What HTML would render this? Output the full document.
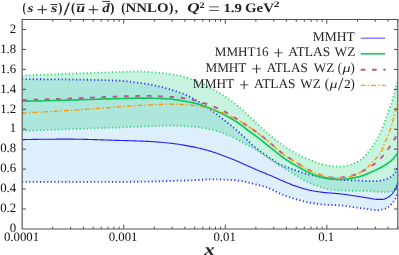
<!DOCTYPE html>
<html lang="en">
<head>
<meta charset="utf-8">
<title>(s + sbar)/(ubar + dbar) NNLO, Q^2 = 1.9 GeV^2</title>
<style>
html,body{margin:0;padding:0;background:#fff;}
body{width:399px;height:255px;overflow:hidden;font-family:"Liberation Serif",serif;}
svg{display:block;}
svg text{text-rendering:geometricPrecision;}
svg{will-change:transform;}
</style>
</head>
<body>
<svg width="399" height="255" viewBox="0 0 399 255" font-family="'Liberation Serif', serif" font-size="12.8" fill="#111">
<rect width="399" height="255" fill="#fff"/>
<clipPath id="c"><rect x="22.18" y="19.5" width="375.62" height="209.45"/></clipPath>
<g clip-path="url(#c)">
<path d="M22.00,79.20 L23.32,79.20 L24.65,79.20 L25.98,79.20 L27.30,79.21 L28.62,79.21 L29.95,79.21 L31.27,79.22 L32.60,79.22 L33.92,79.23 L35.25,79.23 L36.58,79.24 L37.90,79.24 L39.22,79.25 L40.55,79.26 L41.88,79.27 L43.20,79.27 L44.52,79.28 L45.85,79.29 L47.17,79.30 L48.50,79.31 L49.83,79.32 L51.15,79.33 L52.47,79.34 L53.80,79.35 L55.12,79.36 L56.45,79.37 L57.77,79.39 L59.10,79.40 L60.42,79.41 L61.75,79.42 L63.07,79.43 L64.40,79.45 L65.72,79.46 L67.05,79.47 L68.38,79.48 L69.70,79.50 L71.03,79.51 L72.35,79.53 L73.67,79.54 L75.00,79.56 L76.32,79.57 L77.65,79.59 L78.97,79.61 L80.30,79.62 L81.62,79.64 L82.95,79.66 L84.28,79.68 L85.60,79.71 L86.92,79.73 L88.25,79.75 L89.58,79.78 L90.90,79.80 L92.22,79.83 L93.55,79.86 L94.88,79.89 L96.20,79.92 L97.52,79.95 L98.85,79.98 L100.17,80.02 L101.50,80.05 L102.83,80.09 L104.15,80.13 L105.47,80.17 L106.80,80.21 L108.12,80.25 L109.45,80.30 L110.77,80.34 L112.10,80.39 L113.42,80.44 L114.75,80.49 L116.08,80.54 L117.40,80.60 L118.72,80.67 L120.05,80.74 L121.38,80.82 L122.70,80.92 L124.02,81.02 L125.35,81.14 L126.67,81.27 L128.00,81.41 L129.32,81.57 L130.65,81.73 L131.97,81.90 L133.30,82.08 L134.62,82.27 L135.95,82.46 L137.27,82.65 L138.60,82.84 L139.93,83.03 L141.25,83.22 L142.57,83.41 L143.90,83.60 L145.22,83.79 L146.55,83.99 L147.88,84.20 L149.20,84.41 L150.53,84.64 L151.85,84.89 L153.17,85.15 L154.50,85.43 L155.82,85.73 L157.15,86.04 L158.47,86.37 L159.80,86.70 L161.12,87.03 L162.45,87.37 L163.78,87.71 L165.10,88.06 L166.42,88.41 L167.75,88.77 L169.07,89.13 L170.40,89.51 L171.72,89.89 L173.05,90.29 L174.38,90.71 L175.70,91.13 L177.03,91.57 L178.35,92.03 L179.67,92.50 L181.00,92.97 L182.32,93.46 L183.65,93.97 L184.97,94.50 L186.30,95.05 L187.62,95.65 L188.95,96.28 L190.28,96.95 L191.60,97.66 L192.92,98.40 L194.25,99.16 L195.57,99.93 L196.90,100.70 L198.22,101.47 L199.55,102.26 L200.88,103.06 L202.20,103.89 L203.53,104.75 L204.85,105.65 L206.17,106.58 L207.50,107.53 L208.82,108.50 L210.15,109.47 L211.47,110.44 L212.80,111.40 L214.12,112.37 L215.45,113.34 L216.78,114.33 L218.10,115.33 L219.42,116.35 L220.75,117.38 L222.07,118.42 L223.40,119.47 L224.72,120.51 L226.05,121.56 L227.38,122.61 L228.70,123.67 L230.03,124.73 L231.35,125.80 L232.67,126.88 L234.00,127.97 L235.32,129.09 L236.65,130.23 L237.97,131.40 L239.30,132.60 L240.62,133.84 L241.95,135.09 L243.28,136.37 L244.60,137.65 L245.92,138.94 L247.25,140.22 L248.57,141.49 L249.90,142.73 L251.22,143.95 L252.55,145.14 L253.88,146.29 L255.20,147.40 L256.52,148.47 L257.85,149.50 L259.17,150.50 L260.50,151.47 L261.82,152.43 L263.15,153.37 L264.48,154.29 L265.80,155.22 L267.12,156.14 L268.45,157.06 L269.77,157.98 L271.10,158.90 L272.42,159.81 L273.75,160.71 L275.07,161.59 L276.40,162.43 L277.73,163.23 L279.05,163.97 L280.38,164.65 L281.70,165.28 L283.02,165.85 L284.35,166.37 L285.68,166.87 L287.00,167.33 L288.32,167.78 L289.65,168.22 L290.97,168.67 L292.30,169.11 L293.62,169.57 L294.95,170.04 L296.27,170.51 L297.60,170.99 L298.93,171.48 L300.25,171.95 L301.57,172.42 L302.90,172.86 L304.22,173.27 L305.55,173.65 L306.88,173.99 L308.20,174.31 L309.52,174.60 L310.85,174.87 L312.18,175.14 L313.50,175.40 L314.82,175.67 L316.15,175.94 L317.47,176.22 L318.80,176.49 L320.12,176.76 L321.45,177.02 L322.77,177.27 L324.10,177.51 L325.43,177.74 L326.75,177.96 L328.07,178.18 L329.40,178.39 L330.72,178.59 L332.05,178.78 L333.38,178.96 L334.70,179.14 L336.02,179.29 L337.35,179.43 L338.68,179.54 L340.00,179.63 L340.18,179.70 L340.36,179.75 L340.54,179.79 L340.72,179.81 L340.90,179.83 L341.08,179.84 L341.26,179.85 L341.44,179.87 L341.63,179.88 L341.81,179.89 L341.99,179.90 L342.17,179.91 L342.35,179.92 L342.53,179.93 L342.71,179.94 L342.89,179.95 L343.07,179.96 L343.25,179.97 L343.43,179.97 L343.61,179.98 L343.79,179.99 L343.97,180.00 L344.15,180.01 L344.33,180.02 L344.51,180.02 L344.69,180.03 L344.88,180.04 L345.06,180.05 L345.24,180.05 L345.42,180.06 L345.60,180.07 L345.78,180.08 L345.96,180.08 L346.14,180.09 L346.32,180.10 L346.50,180.10 L346.68,180.11 L346.86,180.12 L347.04,180.12 L347.22,180.13 L347.40,180.13 L347.58,180.14 L347.76,180.15 L347.94,180.15 L348.13,180.16 L348.31,180.16 L348.49,180.17 L348.67,180.17 L348.85,180.18 L349.03,180.19 L349.21,180.19 L349.39,180.20 L349.57,180.20 L349.75,180.21 L349.93,180.21 L350.11,180.22 L350.29,180.22 L350.47,180.23 L350.65,180.23 L350.83,180.24 L351.01,180.24 L351.19,180.25 L351.38,180.25 L351.56,180.26 L351.74,180.26 L351.92,180.27 L352.10,180.27 L352.28,180.28 L352.46,180.28 L352.64,180.29 L352.82,180.30 L353.00,180.30 L353.18,180.31 L353.36,180.31 L353.54,180.32 L353.72,180.32 L353.90,180.33 L354.08,180.33 L354.26,180.34 L354.45,180.34 L354.63,180.35 L354.81,180.36 L354.99,180.36 L355.17,180.37 L355.35,180.37 L355.53,180.38 L355.71,180.39 L355.89,180.39 L356.07,180.40 L356.25,180.41 L356.43,180.41 L356.61,180.42 L356.79,180.43 L356.97,180.43 L357.15,180.44 L357.33,180.45 L357.51,180.45 L357.70,180.46 L357.88,180.47 L358.06,180.48 L358.24,180.48 L358.42,180.49 L358.60,180.50 L358.78,180.51 L358.96,180.52 L359.14,180.53 L359.32,180.54 L359.50,180.55 L359.68,180.56 L359.86,180.57 L360.04,180.58 L360.22,180.59 L360.40,180.60 L360.58,180.62 L360.76,180.63 L360.95,180.64 L361.13,180.66 L361.31,180.67 L361.49,180.68 L361.67,180.70 L361.85,180.71 L362.03,180.72 L362.21,180.74 L362.39,180.75 L362.57,180.76 L362.75,180.78 L362.93,180.79 L363.11,180.81 L363.29,180.82 L363.47,180.83 L363.65,180.85 L363.83,180.86 L364.02,180.87 L364.20,180.89 L364.38,180.90 L364.56,180.91 L364.74,180.93 L364.92,180.94 L365.10,180.95 L365.28,180.96 L365.46,180.97 L365.64,180.98 L365.82,181.00 L366.00,181.01 L366.18,181.02 L366.36,181.02 L366.54,181.03 L366.72,181.04 L366.90,181.05 L367.08,181.06 L367.27,181.06 L367.45,181.07 L367.63,181.08 L367.81,181.08 L367.99,181.09 L368.17,181.09 L368.35,181.09 L368.53,181.10 L368.71,181.10 L368.89,181.10 L369.07,181.10 L369.25,181.10 L369.43,181.10 L369.61,181.10 L369.79,181.10 L369.97,181.10 L370.15,181.10 L370.33,181.10 L370.52,181.10 L370.70,181.10 L370.88,181.10 L371.06,181.10 L371.24,181.10 L371.42,181.10 L371.60,181.10 L371.78,181.10 L371.96,181.10 L372.14,181.10 L372.32,181.10 L372.50,181.10 L372.68,181.10 L372.86,181.10 L373.04,181.10 L373.22,181.10 L373.40,181.10 L373.58,181.10 L373.77,181.10 L373.95,181.10 L374.13,181.10 L374.31,181.10 L374.49,181.10 L374.67,181.10 L374.85,181.10 L375.03,181.10 L375.21,181.10 L375.39,181.10 L375.57,181.10 L375.75,181.10 L375.93,181.10 L376.11,181.10 L376.29,181.10 L376.47,181.10 L376.65,181.10 L376.84,181.09 L377.02,181.09 L377.20,181.08 L377.38,181.07 L377.56,181.06 L377.74,181.05 L377.92,181.04 L378.10,181.02 L378.28,181.01 L378.46,180.99 L378.64,180.97 L378.82,180.95 L379.00,180.92 L379.18,180.90 L379.36,180.87 L379.54,180.84 L379.72,180.82 L379.90,180.79 L380.09,180.75 L380.27,180.72 L380.45,180.69 L380.63,180.65 L380.81,180.62 L380.99,180.58 L381.17,180.55 L381.35,180.51 L381.53,180.47 L381.71,180.43 L381.89,180.39 L382.07,180.35 L382.25,180.31 L382.43,180.27 L382.61,180.23 L382.79,180.18 L382.97,180.14 L383.15,180.10 L383.34,180.06 L383.52,180.01 L383.70,179.97 L383.88,179.93 L384.06,179.88 L384.24,179.84 L384.42,179.79 L384.60,179.74 L384.78,179.69 L384.96,179.63 L385.14,179.58 L385.32,179.52 L385.50,179.46 L385.68,179.40 L385.86,179.33 L386.04,179.27 L386.22,179.20 L386.41,179.13 L386.59,179.06 L386.77,178.99 L386.95,178.91 L387.13,178.83 L387.31,178.75 L387.49,178.67 L387.67,178.59 L387.85,178.51 L388.03,178.42 L388.21,178.34 L388.39,178.25 L388.57,178.16 L388.75,178.07 L388.93,177.97 L389.11,177.88 L389.29,177.78 L389.47,177.69 L389.66,177.59 L389.84,177.49 L390.02,177.39 L390.20,177.28 L390.38,177.18 L390.56,177.07 L390.74,176.96 L390.92,176.85 L391.10,176.74 L391.28,176.62 L391.46,176.50 L391.64,176.37 L391.82,176.24 L392.00,176.11 L392.18,175.97 L392.36,175.83 L392.54,175.69 L392.72,175.53 L392.91,175.38 L393.09,175.21 L393.27,175.04 L393.45,174.87 L393.63,174.68 L393.81,174.49 L393.99,174.29 L394.17,174.09 L394.35,173.87 L394.53,173.63 L394.71,173.37 L394.89,173.10 L395.07,172.80 L395.25,172.47 L395.43,172.12 L395.61,171.75 L395.79,171.36 L395.97,170.95 L396.16,170.52 L396.34,170.08 L396.52,169.62 L396.70,169.16 L396.88,168.69 L397.06,168.24 L397.24,167.73 L397.42,167.17 L397.60,166.60 L397.60,193.20 L397.42,193.69 L397.24,194.17 L397.06,194.67 L396.88,195.09 L396.70,195.52 L396.52,195.95 L396.34,196.37 L396.16,196.79 L395.97,197.18 L395.79,197.57 L395.61,197.94 L395.43,198.30 L395.25,198.64 L395.07,198.98 L394.89,199.30 L394.71,199.61 L394.53,199.92 L394.35,200.22 L394.17,200.51 L393.99,200.79 L393.81,201.07 L393.63,201.34 L393.45,201.60 L393.27,201.86 L393.09,202.10 L392.91,202.34 L392.72,202.58 L392.54,202.81 L392.36,203.03 L392.18,203.25 L392.00,203.46 L391.82,203.67 L391.64,203.88 L391.46,204.08 L391.28,204.28 L391.10,204.47 L390.92,204.66 L390.74,204.85 L390.56,205.03 L390.38,205.21 L390.20,205.38 L390.02,205.55 L389.84,205.71 L389.66,205.87 L389.47,206.02 L389.29,206.17 L389.11,206.31 L388.93,206.45 L388.75,206.58 L388.57,206.71 L388.39,206.83 L388.21,206.95 L388.03,207.06 L387.85,207.18 L387.67,207.29 L387.49,207.40 L387.31,207.51 L387.13,207.61 L386.95,207.71 L386.77,207.81 L386.59,207.91 L386.41,208.00 L386.22,208.10 L386.04,208.19 L385.86,208.27 L385.68,208.36 L385.50,208.44 L385.32,208.51 L385.14,208.59 L384.96,208.66 L384.78,208.73 L384.60,208.80 L384.42,208.86 L384.24,208.92 L384.06,208.98 L383.88,209.03 L383.70,209.09 L383.52,209.14 L383.34,209.19 L383.15,209.25 L382.97,209.30 L382.79,209.35 L382.61,209.40 L382.43,209.45 L382.25,209.50 L382.07,209.55 L381.89,209.60 L381.71,209.64 L381.53,209.69 L381.35,209.73 L381.17,209.77 L380.99,209.82 L380.81,209.86 L380.63,209.89 L380.45,209.93 L380.27,209.96 L380.09,210.00 L379.90,210.03 L379.72,210.06 L379.54,210.08 L379.36,210.10 L379.18,210.12 L379.00,210.14 L378.82,210.16 L378.64,210.17 L378.46,210.18 L378.28,210.19 L378.10,210.19 L377.92,210.19 L377.74,210.19 L377.56,210.19 L377.38,210.19 L377.20,210.18 L377.02,210.18 L376.84,210.17 L376.65,210.16 L376.47,210.15 L376.29,210.14 L376.11,210.13 L375.93,210.12 L375.75,210.11 L375.57,210.09 L375.39,210.08 L375.21,210.06 L375.03,210.04 L374.85,210.03 L374.67,210.01 L374.49,209.99 L374.31,209.97 L374.13,209.95 L373.95,209.93 L373.77,209.91 L373.58,209.89 L373.40,209.87 L373.22,209.84 L373.04,209.82 L372.86,209.80 L372.68,209.78 L372.50,209.75 L372.32,209.73 L372.14,209.71 L371.96,209.68 L371.78,209.66 L371.60,209.63 L371.42,209.61 L371.24,209.58 L371.06,209.56 L370.88,209.54 L370.70,209.51 L370.52,209.49 L370.33,209.47 L370.15,209.44 L369.97,209.42 L369.79,209.40 L369.61,209.37 L369.43,209.35 L369.25,209.33 L369.07,209.31 L368.89,209.29 L368.71,209.27 L368.53,209.24 L368.35,209.22 L368.17,209.20 L367.99,209.18 L367.81,209.16 L367.63,209.13 L367.45,209.11 L367.27,209.09 L367.08,209.07 L366.90,209.04 L366.72,209.02 L366.54,209.00 L366.36,208.97 L366.18,208.95 L366.00,208.92 L365.82,208.90 L365.64,208.88 L365.46,208.85 L365.28,208.83 L365.10,208.80 L364.92,208.78 L364.74,208.75 L364.56,208.73 L364.38,208.70 L364.20,208.68 L364.02,208.65 L363.83,208.62 L363.65,208.60 L363.47,208.57 L363.29,208.55 L363.11,208.52 L362.93,208.49 L362.75,208.47 L362.57,208.44 L362.39,208.41 L362.21,208.39 L362.03,208.36 L361.85,208.33 L361.67,208.31 L361.49,208.28 L361.31,208.25 L361.13,208.23 L360.95,208.20 L360.76,208.17 L360.58,208.15 L360.40,208.12 L360.22,208.09 L360.04,208.07 L359.86,208.04 L359.68,208.01 L359.50,207.99 L359.32,207.96 L359.14,207.93 L358.96,207.91 L358.78,207.88 L358.60,207.85 L358.42,207.83 L358.24,207.80 L358.06,207.77 L357.88,207.75 L357.70,207.72 L357.51,207.69 L357.33,207.67 L357.15,207.64 L356.97,207.61 L356.79,207.59 L356.61,207.56 L356.43,207.54 L356.25,207.51 L356.07,207.49 L355.89,207.46 L355.71,207.43 L355.53,207.41 L355.35,207.38 L355.17,207.36 L354.99,207.33 L354.81,207.31 L354.63,207.28 L354.45,207.26 L354.26,207.24 L354.08,207.21 L353.90,207.19 L353.72,207.16 L353.54,207.14 L353.36,207.11 L353.18,207.09 L353.00,207.06 L352.82,207.04 L352.64,207.01 L352.46,206.99 L352.28,206.96 L352.10,206.94 L351.92,206.91 L351.74,206.88 L351.56,206.86 L351.38,206.83 L351.19,206.81 L351.01,206.78 L350.83,206.75 L350.65,206.73 L350.47,206.70 L350.29,206.67 L350.11,206.65 L349.93,206.62 L349.75,206.59 L349.57,206.57 L349.39,206.54 L349.21,206.51 L349.03,206.49 L348.85,206.46 L348.67,206.43 L348.49,206.41 L348.31,206.38 L348.13,206.35 L347.94,206.33 L347.76,206.30 L347.58,206.28 L347.40,206.25 L347.22,206.22 L347.04,206.20 L346.86,206.17 L346.68,206.15 L346.50,206.12 L346.32,206.10 L346.14,206.07 L345.96,206.05 L345.78,206.02 L345.60,206.00 L345.42,205.97 L345.24,205.95 L345.06,205.92 L344.88,205.90 L344.69,205.88 L344.51,205.85 L344.33,205.83 L344.15,205.81 L343.97,205.78 L343.79,205.76 L343.61,205.74 L343.43,205.72 L343.25,205.70 L343.07,205.68 L342.89,205.65 L342.71,205.63 L342.53,205.61 L342.35,205.59 L342.17,205.57 L341.99,205.56 L341.81,205.54 L341.63,205.52 L341.44,205.50 L341.26,205.48 L341.08,205.47 L340.90,205.45 L340.72,205.43 L340.54,205.41 L340.36,205.38 L340.18,205.35 L340.00,205.31 L338.68,205.26 L337.35,205.21 L336.02,205.16 L334.70,205.11 L333.38,205.06 L332.05,205.00 L330.72,204.95 L329.40,204.89 L328.07,204.83 L326.75,204.76 L325.43,204.68 L324.10,204.58 L322.77,204.47 L321.45,204.34 L320.12,204.19 L318.80,204.03 L317.47,203.86 L316.15,203.67 L314.82,203.47 L313.50,203.26 L312.18,203.04 L310.85,202.81 L309.52,202.57 L308.20,202.31 L306.88,202.04 L305.55,201.75 L304.22,201.44 L302.90,201.13 L301.57,200.79 L300.25,200.45 L298.93,200.09 L297.60,199.72 L296.27,199.34 L294.95,198.96 L293.62,198.56 L292.30,198.15 L290.97,197.73 L289.65,197.29 L288.32,196.84 L287.00,196.38 L285.68,195.89 L284.35,195.39 L283.02,194.87 L281.70,194.31 L280.38,193.73 L279.05,193.12 L277.73,192.47 L276.40,191.81 L275.07,191.13 L273.75,190.46 L272.42,189.80 L271.10,189.17 L269.77,188.58 L268.45,188.03 L267.12,187.53 L265.80,187.07 L264.48,186.65 L263.15,186.25 L261.82,185.89 L260.50,185.54 L259.17,185.20 L257.85,184.87 L256.52,184.55 L255.20,184.22 L253.88,183.88 L252.55,183.55 L251.22,183.20 L249.90,182.86 L248.57,182.52 L247.25,182.19 L245.92,181.88 L244.60,181.59 L243.28,181.33 L241.95,181.09 L240.62,180.88 L239.30,180.69 L237.97,180.53 L236.65,180.39 L235.32,180.26 L234.00,180.15 L232.67,180.04 L231.35,179.95 L230.03,179.86 L228.70,179.79 L227.38,179.72 L226.05,179.66 L224.72,179.61 L223.40,179.56 L222.07,179.52 L220.75,179.48 L219.42,179.45 L218.10,179.42 L216.78,179.39 L215.45,179.37 L214.12,179.35 L212.80,179.34 L211.47,179.34 L210.15,179.35 L208.82,179.38 L207.50,179.42 L206.17,179.48 L204.85,179.55 L203.53,179.64 L202.20,179.73 L200.88,179.82 L199.55,179.92 L198.22,180.00 L196.90,180.08 L195.57,180.16 L194.25,180.22 L192.92,180.28 L191.60,180.33 L190.28,180.37 L188.95,180.41 L187.62,180.45 L186.30,180.49 L184.97,180.52 L183.65,180.56 L182.32,180.59 L181.00,180.62 L179.67,180.65 L178.35,180.69 L177.03,180.72 L175.70,180.75 L174.38,180.78 L173.05,180.82 L171.72,180.86 L170.40,180.90 L169.07,180.94 L167.75,180.98 L166.42,181.03 L165.10,181.07 L163.78,181.12 L162.45,181.17 L161.12,181.23 L159.80,181.28 L158.47,181.33 L157.15,181.38 L155.82,181.43 L154.50,181.47 L153.17,181.51 L151.85,181.55 L150.53,181.59 L149.20,181.62 L147.88,181.65 L146.55,181.67 L145.22,181.69 L143.90,181.70 L142.57,181.71 L141.25,181.72 L139.93,181.73 L138.60,181.74 L137.27,181.74 L135.95,181.75 L134.62,181.76 L133.30,181.76 L131.97,181.77 L130.65,181.77 L129.32,181.78 L128.00,181.78 L126.67,181.78 L125.35,181.79 L124.02,181.79 L122.70,181.79 L121.38,181.80 L120.05,181.80 L118.72,181.80 L117.40,181.80 L116.08,181.81 L114.75,181.81 L113.42,181.81 L112.10,181.81 L110.77,181.82 L109.45,181.82 L108.12,181.82 L106.80,181.82 L105.47,181.83 L104.15,181.83 L102.83,181.83 L101.50,181.83 L100.17,181.83 L98.85,181.84 L97.52,181.84 L96.20,181.84 L94.88,181.84 L93.55,181.84 L92.22,181.85 L90.90,181.85 L89.58,181.85 L88.25,181.85 L86.92,181.85 L85.60,181.85 L84.28,181.86 L82.95,181.86 L81.62,181.86 L80.30,181.86 L78.97,181.86 L77.65,181.86 L76.32,181.87 L75.00,181.87 L73.67,181.87 L72.35,181.87 L71.03,181.87 L69.70,181.87 L68.38,181.88 L67.05,181.88 L65.72,181.88 L64.40,181.88 L63.07,181.88 L61.75,181.88 L60.42,181.88 L59.10,181.88 L57.77,181.88 L56.45,181.89 L55.12,181.89 L53.80,181.89 L52.47,181.89 L51.15,181.89 L49.83,181.89 L48.50,181.89 L47.17,181.89 L45.85,181.89 L44.52,181.89 L43.20,181.89 L41.88,181.90 L40.55,181.90 L39.22,181.90 L37.90,181.90 L36.58,181.90 L35.25,181.90 L33.92,181.90 L32.60,181.90 L31.27,181.90 L29.95,181.90 L28.62,181.90 L27.30,181.90 L25.98,181.90 L24.65,181.90 L23.32,181.90 L22.00,181.90Z" fill="#ddeffb"/>
<path d="M22.00,75.65 L23.32,75.59 L24.65,75.53 L25.98,75.46 L27.30,75.40 L28.62,75.34 L29.95,75.28 L31.27,75.22 L32.60,75.17 L33.92,75.11 L35.25,75.05 L36.58,74.99 L37.90,74.94 L39.22,74.88 L40.55,74.83 L41.88,74.78 L43.20,74.73 L44.52,74.67 L45.85,74.62 L47.17,74.57 L48.50,74.52 L49.83,74.47 L51.15,74.42 L52.47,74.38 L53.80,74.33 L55.12,74.28 L56.45,74.23 L57.77,74.19 L59.10,74.14 L60.42,74.09 L61.75,74.04 L63.07,74.00 L64.40,73.95 L65.72,73.90 L67.05,73.86 L68.38,73.81 L69.70,73.76 L71.03,73.71 L72.35,73.66 L73.67,73.62 L75.00,73.57 L76.32,73.52 L77.65,73.47 L78.97,73.42 L80.30,73.37 L81.62,73.33 L82.95,73.28 L84.28,73.23 L85.60,73.18 L86.92,73.13 L88.25,73.08 L89.58,73.04 L90.90,72.99 L92.22,72.94 L93.55,72.89 L94.88,72.84 L96.20,72.79 L97.52,72.75 L98.85,72.70 L100.17,72.65 L101.50,72.60 L102.83,72.56 L104.15,72.51 L105.47,72.46 L106.80,72.41 L108.12,72.37 L109.45,72.32 L110.77,72.27 L112.10,72.23 L113.42,72.18 L114.75,72.13 L116.08,72.09 L117.40,72.04 L118.72,71.99 L120.05,71.94 L121.38,71.89 L122.70,71.84 L124.02,71.78 L125.35,71.73 L126.67,71.68 L128.00,71.63 L129.32,71.59 L130.65,71.55 L131.97,71.52 L133.30,71.50 L134.62,71.49 L135.95,71.49 L137.27,71.50 L138.60,71.53 L139.93,71.56 L141.25,71.60 L142.57,71.66 L143.90,71.72 L145.22,71.79 L146.55,71.86 L147.88,71.94 L149.20,72.03 L150.53,72.12 L151.85,72.21 L153.17,72.31 L154.50,72.41 L155.82,72.51 L157.15,72.62 L158.47,72.74 L159.80,72.86 L161.12,72.99 L162.45,73.12 L163.78,73.27 L165.10,73.43 L166.42,73.60 L167.75,73.77 L169.07,73.96 L170.40,74.16 L171.72,74.37 L173.05,74.59 L174.38,74.81 L175.70,75.05 L177.03,75.30 L178.35,75.56 L179.67,75.83 L181.00,76.12 L182.32,76.43 L183.65,76.76 L184.97,77.12 L186.30,77.51 L187.62,77.93 L188.95,78.37 L190.28,78.84 L191.60,79.32 L192.92,79.81 L194.25,80.31 L195.57,80.82 L196.90,81.33 L198.22,81.85 L199.55,82.38 L200.88,82.92 L202.20,83.47 L203.53,84.04 L204.85,84.64 L206.17,85.27 L207.50,85.93 L208.82,86.62 L210.15,87.35 L211.47,88.12 L212.80,88.91 L214.12,89.72 L215.45,90.54 L216.78,91.37 L218.10,92.20 L219.42,93.02 L220.75,93.84 L222.07,94.66 L223.40,95.48 L224.72,96.31 L226.05,97.17 L227.38,98.05 L228.70,98.97 L230.03,99.91 L231.35,100.89 L232.67,101.90 L234.00,102.94 L235.32,104.00 L236.65,105.08 L237.97,106.19 L239.30,107.32 L240.62,108.47 L241.95,109.64 L243.28,110.83 L244.60,112.04 L245.92,113.27 L247.25,114.50 L248.57,115.75 L249.90,117.00 L251.22,118.25 L252.55,119.51 L253.88,120.77 L255.20,122.03 L256.52,123.29 L257.85,124.54 L259.17,125.79 L260.50,127.02 L261.82,128.24 L263.15,129.44 L264.48,130.62 L265.80,131.78 L267.12,132.92 L268.45,134.04 L269.77,135.15 L271.10,136.23 L272.42,137.31 L273.75,138.36 L275.07,139.40 L276.40,140.42 L277.73,141.41 L279.05,142.39 L280.38,143.35 L281.70,144.29 L283.02,145.21 L284.35,146.12 L285.68,147.01 L287.00,147.88 L288.32,148.74 L289.65,149.59 L290.97,150.43 L292.30,151.26 L293.62,152.08 L294.95,152.89 L296.27,153.67 L297.60,154.43 L298.93,155.14 L300.25,155.82 L301.57,156.46 L302.90,157.06 L304.22,157.64 L305.55,158.20 L306.88,158.75 L308.20,159.30 L309.52,159.85 L310.85,160.40 L312.18,160.94 L313.50,161.47 L314.82,161.97 L316.15,162.45 L317.47,162.90 L318.80,163.32 L320.12,163.71 L321.45,164.08 L322.77,164.43 L324.10,164.75 L325.43,165.04 L326.75,165.31 L328.07,165.56 L329.40,165.78 L330.72,165.98 L332.05,166.15 L333.38,166.29 L334.70,166.40 L336.02,166.48 L337.35,166.54 L338.68,166.57 L340.00,166.59 L340.18,166.60 L340.36,166.59 L340.54,166.58 L340.72,166.57 L340.90,166.57 L341.08,166.56 L341.26,166.55 L341.44,166.54 L341.63,166.53 L341.81,166.52 L341.99,166.50 L342.17,166.49 L342.35,166.47 L342.53,166.45 L342.71,166.43 L342.89,166.41 L343.07,166.39 L343.25,166.37 L343.43,166.34 L343.61,166.32 L343.79,166.29 L343.97,166.26 L344.15,166.23 L344.33,166.20 L344.51,166.17 L344.69,166.14 L344.88,166.11 L345.06,166.07 L345.24,166.04 L345.42,166.01 L345.60,165.97 L345.78,165.93 L345.96,165.90 L346.14,165.86 L346.32,165.82 L346.50,165.78 L346.68,165.75 L346.86,165.71 L347.04,165.67 L347.22,165.63 L347.40,165.59 L347.58,165.55 L347.76,165.51 L347.94,165.47 L348.13,165.42 L348.31,165.38 L348.49,165.33 L348.67,165.28 L348.85,165.23 L349.03,165.18 L349.21,165.13 L349.39,165.08 L349.57,165.02 L349.75,164.97 L349.93,164.91 L350.11,164.85 L350.29,164.79 L350.47,164.73 L350.65,164.66 L350.83,164.60 L351.01,164.54 L351.19,164.47 L351.38,164.40 L351.56,164.34 L351.74,164.27 L351.92,164.20 L352.10,164.13 L352.28,164.06 L352.46,163.99 L352.64,163.92 L352.82,163.85 L353.00,163.77 L353.18,163.70 L353.36,163.63 L353.54,163.55 L353.72,163.48 L353.90,163.40 L354.08,163.33 L354.26,163.25 L354.45,163.17 L354.63,163.10 L354.81,163.02 L354.99,162.94 L355.17,162.85 L355.35,162.77 L355.53,162.69 L355.71,162.60 L355.89,162.52 L356.07,162.43 L356.25,162.34 L356.43,162.25 L356.61,162.16 L356.79,162.07 L356.97,161.97 L357.15,161.88 L357.33,161.78 L357.51,161.69 L357.70,161.59 L357.88,161.49 L358.06,161.39 L358.24,161.28 L358.42,161.18 L358.60,161.07 L358.78,160.97 L358.96,160.86 L359.14,160.75 L359.32,160.64 L359.50,160.53 L359.68,160.41 L359.86,160.30 L360.04,160.18 L360.22,160.06 L360.40,159.94 L360.58,159.82 L360.76,159.69 L360.95,159.56 L361.13,159.43 L361.31,159.30 L361.49,159.16 L361.67,159.02 L361.85,158.88 L362.03,158.74 L362.21,158.60 L362.39,158.45 L362.57,158.30 L362.75,158.14 L362.93,157.99 L363.11,157.83 L363.29,157.67 L363.47,157.51 L363.65,157.34 L363.83,157.18 L364.02,157.01 L364.20,156.84 L364.38,156.66 L364.56,156.49 L364.74,156.31 L364.92,156.13 L365.10,155.94 L365.28,155.75 L365.46,155.55 L365.64,155.35 L365.82,155.15 L366.00,154.93 L366.18,154.71 L366.36,154.49 L366.54,154.26 L366.72,154.03 L366.90,153.79 L367.08,153.56 L367.27,153.32 L367.45,153.07 L367.63,152.83 L367.81,152.59 L367.99,152.35 L368.17,152.11 L368.35,151.87 L368.53,151.64 L368.71,151.40 L368.89,151.17 L369.07,150.94 L369.25,150.72 L369.43,150.50 L369.61,150.27 L369.79,150.05 L369.97,149.83 L370.15,149.61 L370.33,149.38 L370.52,149.16 L370.70,148.93 L370.88,148.70 L371.06,148.46 L371.24,148.22 L371.42,147.98 L371.60,147.73 L371.78,147.49 L371.96,147.23 L372.14,146.98 L372.32,146.72 L372.50,146.46 L372.68,146.20 L372.86,145.94 L373.04,145.67 L373.22,145.40 L373.40,145.13 L373.58,144.86 L373.77,144.58 L373.95,144.31 L374.13,144.03 L374.31,143.75 L374.49,143.46 L374.67,143.17 L374.85,142.89 L375.03,142.60 L375.21,142.30 L375.39,142.01 L375.57,141.71 L375.75,141.41 L375.93,141.11 L376.11,140.80 L376.29,140.50 L376.47,140.19 L376.65,139.88 L376.84,139.56 L377.02,139.24 L377.20,138.92 L377.38,138.60 L377.56,138.27 L377.74,137.94 L377.92,137.61 L378.10,137.27 L378.28,136.94 L378.46,136.59 L378.64,136.25 L378.82,135.90 L379.00,135.55 L379.18,135.19 L379.36,134.84 L379.54,134.48 L379.72,134.11 L379.90,133.75 L380.09,133.38 L380.27,133.00 L380.45,132.62 L380.63,132.24 L380.81,131.86 L380.99,131.46 L381.17,131.07 L381.35,130.67 L381.53,130.26 L381.71,129.85 L381.89,129.43 L382.07,129.00 L382.25,128.57 L382.43,128.13 L382.61,127.68 L382.79,127.22 L382.97,126.75 L383.15,126.27 L383.34,125.78 L383.52,125.27 L383.70,124.76 L383.88,124.24 L384.06,123.71 L384.24,123.17 L384.42,122.63 L384.60,122.08 L384.78,121.53 L384.96,120.98 L385.14,120.43 L385.32,119.87 L385.50,119.32 L385.68,118.78 L385.86,118.23 L386.04,117.70 L386.22,117.17 L386.41,116.64 L386.59,116.13 L386.77,115.62 L386.95,115.13 L387.13,114.65 L387.31,114.17 L387.49,113.70 L387.67,113.25 L387.85,112.80 L388.03,112.36 L388.21,111.92 L388.39,111.48 L388.57,111.05 L388.75,110.62 L388.93,110.19 L389.11,109.75 L389.29,109.32 L389.47,108.88 L389.66,108.43 L389.84,107.98 L390.02,107.52 L390.20,107.05 L390.38,106.57 L390.56,106.07 L390.74,105.57 L390.92,105.05 L391.10,104.52 L391.28,103.98 L391.46,103.42 L391.64,102.86 L391.82,102.28 L392.00,101.69 L392.18,101.10 L392.36,100.49 L392.54,99.87 L392.72,99.25 L392.91,98.61 L393.09,97.97 L393.27,97.33 L393.45,96.67 L393.63,96.00 L393.81,95.32 L393.99,94.63 L394.17,93.92 L394.35,93.20 L394.53,92.46 L394.71,91.71 L394.89,90.95 L395.07,90.19 L395.25,89.44 L395.43,88.71 L395.61,87.99 L395.79,87.30 L395.97,86.64 L396.16,86.00 L396.34,85.39 L396.52,84.80 L396.70,84.24 L396.88,83.71 L397.06,83.23 L397.24,82.60 L397.42,82.11 L397.60,81.65 L397.60,182.15 L397.42,182.93 L397.24,183.67 L397.06,184.31 L396.88,184.86 L396.70,185.42 L396.52,185.95 L396.34,186.44 L396.16,186.89 L395.97,187.30 L395.79,187.67 L395.61,188.01 L395.43,188.32 L395.25,188.60 L395.07,188.87 L394.89,189.12 L394.71,189.35 L394.53,189.57 L394.35,189.78 L394.17,189.97 L393.99,190.15 L393.81,190.32 L393.63,190.48 L393.45,190.62 L393.27,190.75 L393.09,190.87 L392.91,190.98 L392.72,191.07 L392.54,191.17 L392.36,191.25 L392.18,191.34 L392.00,191.42 L391.82,191.49 L391.64,191.56 L391.46,191.63 L391.28,191.69 L391.10,191.74 L390.92,191.79 L390.74,191.83 L390.56,191.87 L390.38,191.89 L390.20,191.92 L390.02,191.93 L389.84,191.95 L389.66,191.96 L389.47,191.97 L389.29,191.97 L389.11,191.98 L388.93,191.98 L388.75,191.99 L388.57,191.99 L388.39,192.00 L388.21,192.00 L388.03,192.01 L387.85,192.01 L387.67,192.01 L387.49,192.02 L387.31,192.02 L387.13,192.02 L386.95,192.03 L386.77,192.03 L386.59,192.03 L386.41,192.03 L386.22,192.04 L386.04,192.04 L385.86,192.04 L385.68,192.04 L385.50,192.04 L385.32,192.05 L385.14,192.05 L384.96,192.05 L384.78,192.05 L384.60,192.05 L384.42,192.05 L384.24,192.05 L384.06,192.05 L383.88,192.05 L383.70,192.05 L383.52,192.05 L383.34,192.04 L383.15,192.04 L382.97,192.04 L382.79,192.04 L382.61,192.03 L382.43,192.03 L382.25,192.02 L382.07,192.02 L381.89,192.01 L381.71,192.00 L381.53,192.00 L381.35,191.99 L381.17,191.98 L380.99,191.97 L380.81,191.96 L380.63,191.96 L380.45,191.95 L380.27,191.94 L380.09,191.93 L379.90,191.92 L379.72,191.90 L379.54,191.89 L379.36,191.88 L379.18,191.87 L379.00,191.86 L378.82,191.85 L378.64,191.83 L378.46,191.82 L378.28,191.81 L378.10,191.79 L377.92,191.78 L377.74,191.77 L377.56,191.75 L377.38,191.74 L377.20,191.73 L377.02,191.71 L376.84,191.70 L376.65,191.68 L376.47,191.67 L376.29,191.65 L376.11,191.64 L375.93,191.63 L375.75,191.61 L375.57,191.60 L375.39,191.58 L375.21,191.57 L375.03,191.55 L374.85,191.54 L374.67,191.52 L374.49,191.51 L374.31,191.49 L374.13,191.48 L373.95,191.46 L373.77,191.45 L373.58,191.44 L373.40,191.42 L373.22,191.41 L373.04,191.39 L372.86,191.38 L372.68,191.37 L372.50,191.35 L372.32,191.34 L372.14,191.33 L371.96,191.31 L371.78,191.30 L371.60,191.29 L371.42,191.28 L371.24,191.27 L371.06,191.26 L370.88,191.24 L370.70,191.23 L370.52,191.22 L370.33,191.21 L370.15,191.20 L369.97,191.19 L369.79,191.19 L369.61,191.18 L369.43,191.17 L369.25,191.16 L369.07,191.15 L368.89,191.15 L368.71,191.14 L368.53,191.13 L368.35,191.13 L368.17,191.12 L367.99,191.11 L367.81,191.11 L367.63,191.10 L367.45,191.09 L367.27,191.09 L367.08,191.08 L366.90,191.07 L366.72,191.07 L366.54,191.06 L366.36,191.06 L366.18,191.05 L366.00,191.04 L365.82,191.04 L365.64,191.03 L365.46,191.03 L365.28,191.02 L365.10,191.02 L364.92,191.01 L364.74,191.00 L364.56,191.00 L364.38,190.99 L364.20,190.99 L364.02,190.98 L363.83,190.98 L363.65,190.97 L363.47,190.97 L363.29,190.96 L363.11,190.96 L362.93,190.95 L362.75,190.95 L362.57,190.94 L362.39,190.94 L362.21,190.93 L362.03,190.93 L361.85,190.92 L361.67,190.92 L361.49,190.91 L361.31,190.91 L361.13,190.91 L360.95,190.90 L360.76,190.90 L360.58,190.89 L360.40,190.89 L360.22,190.88 L360.04,190.88 L359.86,190.88 L359.68,190.87 L359.50,190.87 L359.32,190.86 L359.14,190.86 L358.96,190.86 L358.78,190.85 L358.60,190.85 L358.42,190.85 L358.24,190.84 L358.06,190.84 L357.88,190.84 L357.70,190.83 L357.51,190.83 L357.33,190.83 L357.15,190.82 L356.97,190.82 L356.79,190.82 L356.61,190.82 L356.43,190.81 L356.25,190.81 L356.07,190.81 L355.89,190.80 L355.71,190.80 L355.53,190.80 L355.35,190.80 L355.17,190.80 L354.99,190.79 L354.81,190.79 L354.63,190.79 L354.45,190.79 L354.26,190.78 L354.08,190.78 L353.90,190.78 L353.72,190.78 L353.54,190.77 L353.36,190.77 L353.18,190.77 L353.00,190.77 L352.82,190.77 L352.64,190.76 L352.46,190.76 L352.28,190.76 L352.10,190.76 L351.92,190.76 L351.74,190.75 L351.56,190.75 L351.38,190.75 L351.19,190.75 L351.01,190.75 L350.83,190.74 L350.65,190.74 L350.47,190.74 L350.29,190.74 L350.11,190.73 L349.93,190.73 L349.75,190.73 L349.57,190.73 L349.39,190.73 L349.21,190.72 L349.03,190.72 L348.85,190.72 L348.67,190.72 L348.49,190.71 L348.31,190.71 L348.13,190.71 L347.94,190.70 L347.76,190.70 L347.58,190.70 L347.40,190.70 L347.22,190.69 L347.04,190.69 L346.86,190.69 L346.68,190.68 L346.50,190.68 L346.32,190.68 L346.14,190.67 L345.96,190.67 L345.78,190.67 L345.60,190.66 L345.42,190.66 L345.24,190.65 L345.06,190.65 L344.88,190.65 L344.69,190.64 L344.51,190.64 L344.33,190.63 L344.15,190.63 L343.97,190.62 L343.79,190.62 L343.61,190.61 L343.43,190.61 L343.25,190.60 L343.07,190.60 L342.89,190.59 L342.71,190.59 L342.53,190.58 L342.35,190.57 L342.17,190.57 L341.99,190.56 L341.81,190.55 L341.63,190.55 L341.44,190.54 L341.26,190.53 L341.08,190.53 L340.90,190.52 L340.72,190.51 L340.54,190.49 L340.36,190.47 L340.18,190.44 L340.00,190.40 L338.68,190.34 L337.35,190.25 L336.02,190.15 L334.70,190.02 L333.38,189.87 L332.05,189.69 L330.72,189.49 L329.40,189.26 L328.07,189.00 L326.75,188.72 L325.43,188.41 L324.10,188.08 L322.77,187.71 L321.45,187.32 L320.12,186.91 L318.80,186.47 L317.47,186.02 L316.15,185.55 L314.82,185.06 L313.50,184.56 L312.18,184.04 L310.85,183.50 L309.52,182.95 L308.20,182.37 L306.88,181.76 L305.55,181.11 L304.22,180.43 L302.90,179.69 L301.57,178.91 L300.25,178.07 L298.93,177.20 L297.60,176.31 L296.27,175.41 L294.95,174.52 L293.62,173.66 L292.30,172.83 L290.97,172.04 L289.65,171.28 L288.32,170.55 L287.00,169.83 L285.68,169.11 L284.35,168.37 L283.02,167.62 L281.70,166.85 L280.38,166.04 L279.05,165.19 L277.73,164.32 L276.40,163.42 L275.07,162.50 L273.75,161.59 L272.42,160.69 L271.10,159.81 L269.77,158.94 L268.45,158.10 L267.12,157.25 L265.80,156.41 L264.48,155.54 L263.15,154.65 L261.82,153.74 L260.50,152.82 L259.17,151.89 L257.85,150.99 L256.52,150.12 L255.20,149.28 L253.88,148.50 L252.55,147.75 L251.22,147.03 L249.90,146.34 L248.57,145.65 L247.25,144.96 L245.92,144.26 L244.60,143.55 L243.28,142.84 L241.95,142.11 L240.62,141.38 L239.30,140.65 L237.97,139.93 L236.65,139.22 L235.32,138.52 L234.00,137.86 L232.67,137.22 L231.35,136.61 L230.03,136.03 L228.70,135.48 L227.38,134.94 L226.05,134.41 L224.72,133.88 L223.40,133.36 L222.07,132.86 L220.75,132.37 L219.42,131.91 L218.10,131.47 L216.78,131.07 L215.45,130.69 L214.12,130.35 L212.80,130.02 L211.47,129.72 L210.15,129.42 L208.82,129.14 L207.50,128.88 L206.17,128.62 L204.85,128.37 L203.53,128.13 L202.20,127.90 L200.88,127.69 L199.55,127.50 L198.22,127.32 L196.90,127.16 L195.57,127.02 L194.25,126.89 L192.92,126.77 L191.60,126.66 L190.28,126.56 L188.95,126.46 L187.62,126.36 L186.30,126.28 L184.97,126.19 L183.65,126.11 L182.32,126.04 L181.00,125.97 L179.67,125.91 L178.35,125.85 L177.03,125.80 L175.70,125.76 L174.38,125.73 L173.05,125.70 L171.72,125.69 L170.40,125.68 L169.07,125.68 L167.75,125.69 L166.42,125.70 L165.10,125.72 L163.78,125.75 L162.45,125.78 L161.12,125.82 L159.80,125.86 L158.47,125.91 L157.15,125.96 L155.82,126.01 L154.50,126.06 L153.17,126.12 L151.85,126.17 L150.53,126.23 L149.20,126.28 L147.88,126.34 L146.55,126.39 L145.22,126.44 L143.90,126.49 L142.57,126.54 L141.25,126.59 L139.93,126.64 L138.60,126.70 L137.27,126.75 L135.95,126.80 L134.62,126.86 L133.30,126.91 L131.97,126.97 L130.65,127.02 L129.32,127.08 L128.00,127.13 L126.67,127.19 L125.35,127.24 L124.02,127.29 L122.70,127.34 L121.38,127.40 L120.05,127.45 L118.72,127.49 L117.40,127.54 L116.08,127.59 L114.75,127.64 L113.42,127.69 L112.10,127.73 L110.77,127.78 L109.45,127.83 L108.12,127.87 L106.80,127.92 L105.47,127.96 L104.15,128.01 L102.83,128.05 L101.50,128.10 L100.17,128.14 L98.85,128.18 L97.52,128.23 L96.20,128.27 L94.88,128.32 L93.55,128.36 L92.22,128.40 L90.90,128.45 L89.58,128.49 L88.25,128.53 L86.92,128.58 L85.60,128.62 L84.28,128.67 L82.95,128.71 L81.62,128.75 L80.30,128.80 L78.97,128.84 L77.65,128.89 L76.32,128.93 L75.00,128.98 L73.67,129.02 L72.35,129.07 L71.03,129.11 L69.70,129.16 L68.38,129.21 L67.05,129.25 L65.72,129.30 L64.40,129.35 L63.07,129.40 L61.75,129.44 L60.42,129.49 L59.10,129.54 L57.77,129.58 L56.45,129.63 L55.12,129.68 L53.80,129.73 L52.47,129.78 L51.15,129.82 L49.83,129.87 L48.50,129.92 L47.17,129.97 L45.85,130.02 L44.52,130.06 L43.20,130.11 L41.88,130.16 L40.55,130.21 L39.22,130.26 L37.90,130.31 L36.58,130.36 L35.25,130.41 L33.92,130.45 L32.60,130.50 L31.27,130.55 L29.95,130.60 L28.62,130.65 L27.30,130.70 L25.98,130.74 L24.65,130.80 L23.32,130.85 L22.00,130.90Z" fill="rgb(0,199,102)" fill-opacity="0.216"/>
<g fill="none" stroke-width="1.8" stroke-dasharray="1.15 2.45">
<path d="M22.00,79.20 L23.32,79.20 L24.65,79.20 L25.98,79.20 L27.30,79.21 L28.62,79.21 L29.95,79.21 L31.27,79.22 L32.60,79.22 L33.92,79.23 L35.25,79.23 L36.58,79.24 L37.90,79.24 L39.22,79.25 L40.55,79.26 L41.88,79.27 L43.20,79.27 L44.52,79.28 L45.85,79.29 L47.17,79.30 L48.50,79.31 L49.83,79.32 L51.15,79.33 L52.47,79.34 L53.80,79.35 L55.12,79.36 L56.45,79.37 L57.77,79.39 L59.10,79.40 L60.42,79.41 L61.75,79.42 L63.07,79.43 L64.40,79.45 L65.72,79.46 L67.05,79.47 L68.38,79.48 L69.70,79.50 L71.03,79.51 L72.35,79.53 L73.67,79.54 L75.00,79.56 L76.32,79.57 L77.65,79.59 L78.97,79.61 L80.30,79.62 L81.62,79.64 L82.95,79.66 L84.28,79.68 L85.60,79.71 L86.92,79.73 L88.25,79.75 L89.58,79.78 L90.90,79.80 L92.22,79.83 L93.55,79.86 L94.88,79.89 L96.20,79.92 L97.52,79.95 L98.85,79.98 L100.17,80.02 L101.50,80.05 L102.83,80.09 L104.15,80.13 L105.47,80.17 L106.80,80.21 L108.12,80.25 L109.45,80.30 L110.77,80.34 L112.10,80.39 L113.42,80.44 L114.75,80.49 L116.08,80.54 L117.40,80.60 L118.72,80.67 L120.05,80.74 L121.38,80.82 L122.70,80.92 L124.02,81.02 L125.35,81.14 L126.67,81.27 L128.00,81.41 L129.32,81.57 L130.65,81.73 L131.97,81.90 L133.30,82.08 L134.62,82.27 L135.95,82.46 L137.27,82.65 L138.60,82.84 L139.93,83.03 L141.25,83.22 L142.57,83.41 L143.90,83.60 L145.22,83.79 L146.55,83.99 L147.88,84.20 L149.20,84.41 L150.53,84.64 L151.85,84.89 L153.17,85.15 L154.50,85.43 L155.82,85.73 L157.15,86.04 L158.47,86.37 L159.80,86.70 L161.12,87.03 L162.45,87.37 L163.78,87.71 L165.10,88.06 L166.42,88.41 L167.75,88.77 L169.07,89.13 L170.40,89.51 L171.72,89.89 L173.05,90.29 L174.38,90.71 L175.70,91.13 L177.03,91.57 L178.35,92.03 L179.67,92.50 L181.00,92.97 L182.32,93.46 L183.65,93.97 L184.97,94.50 L186.30,95.05 L187.62,95.65 L188.95,96.28 L190.28,96.95 L191.60,97.66 L192.92,98.40 L194.25,99.16 L195.57,99.93 L196.90,100.70 L198.22,101.47 L199.55,102.26 L200.88,103.06 L202.20,103.89 L203.53,104.75 L204.85,105.65 L206.17,106.58 L207.50,107.53 L208.82,108.50 L210.15,109.47 L211.47,110.44 L212.80,111.40 L214.12,112.37 L215.45,113.34 L216.78,114.33 L218.10,115.33 L219.42,116.35 L220.75,117.38 L222.07,118.42 L223.40,119.47 L224.72,120.51 L226.05,121.56 L227.38,122.61 L228.70,123.67 L230.03,124.73 L231.35,125.80 L232.67,126.88 L234.00,127.97 L235.32,129.09 L236.65,130.23 L237.97,131.40 L239.30,132.60 L240.62,133.84 L241.95,135.09 L243.28,136.37 L244.60,137.65 L245.92,138.94 L247.25,140.22 L248.57,141.49 L249.90,142.73 L251.22,143.95 L252.55,145.14 L253.88,146.29 L255.20,147.40 L256.52,148.47 L257.85,149.50 L259.17,150.50 L260.50,151.47 L261.82,152.43 L263.15,153.37 L264.48,154.29 L265.80,155.22 L267.12,156.14 L268.45,157.06 L269.77,157.98 L271.10,158.90 L272.42,159.81 L273.75,160.71 L275.07,161.59 L276.40,162.43 L277.73,163.23 L279.05,163.97 L280.38,164.65 L281.70,165.28 L283.02,165.85 L284.35,166.37 L285.68,166.87 L287.00,167.33 L288.32,167.78 L289.65,168.22 L290.97,168.67 L292.30,169.11 L293.62,169.57 L294.95,170.04 L296.27,170.51 L297.60,170.99 L298.93,171.48 L300.25,171.95 L301.57,172.42 L302.90,172.86 L304.22,173.27 L305.55,173.65 L306.88,173.99 L308.20,174.31 L309.52,174.60 L310.85,174.87 L312.18,175.14 L313.50,175.40 L314.82,175.67 L316.15,175.94 L317.47,176.22 L318.80,176.49 L320.12,176.76 L321.45,177.02 L322.77,177.27 L324.10,177.51 L325.43,177.74 L326.75,177.96 L328.07,178.18 L329.40,178.39 L330.72,178.59 L332.05,178.78 L333.38,178.96 L334.70,179.14 L336.02,179.29 L337.35,179.43 L338.68,179.54 L340.00,179.63 L340.18,179.70 L340.36,179.75 L340.54,179.79 L340.72,179.81 L340.90,179.83 L341.08,179.84 L341.26,179.85 L341.44,179.87 L341.63,179.88 L341.81,179.89 L341.99,179.90 L342.17,179.91 L342.35,179.92 L342.53,179.93 L342.71,179.94 L342.89,179.95 L343.07,179.96 L343.25,179.97 L343.43,179.97 L343.61,179.98 L343.79,179.99 L343.97,180.00 L344.15,180.01 L344.33,180.02 L344.51,180.02 L344.69,180.03 L344.88,180.04 L345.06,180.05 L345.24,180.05 L345.42,180.06 L345.60,180.07 L345.78,180.08 L345.96,180.08 L346.14,180.09 L346.32,180.10 L346.50,180.10 L346.68,180.11 L346.86,180.12 L347.04,180.12 L347.22,180.13 L347.40,180.13 L347.58,180.14 L347.76,180.15 L347.94,180.15 L348.13,180.16 L348.31,180.16 L348.49,180.17 L348.67,180.17 L348.85,180.18 L349.03,180.19 L349.21,180.19 L349.39,180.20 L349.57,180.20 L349.75,180.21 L349.93,180.21 L350.11,180.22 L350.29,180.22 L350.47,180.23 L350.65,180.23 L350.83,180.24 L351.01,180.24 L351.19,180.25 L351.38,180.25 L351.56,180.26 L351.74,180.26 L351.92,180.27 L352.10,180.27 L352.28,180.28 L352.46,180.28 L352.64,180.29 L352.82,180.30 L353.00,180.30 L353.18,180.31 L353.36,180.31 L353.54,180.32 L353.72,180.32 L353.90,180.33 L354.08,180.33 L354.26,180.34 L354.45,180.34 L354.63,180.35 L354.81,180.36 L354.99,180.36 L355.17,180.37 L355.35,180.37 L355.53,180.38 L355.71,180.39 L355.89,180.39 L356.07,180.40 L356.25,180.41 L356.43,180.41 L356.61,180.42 L356.79,180.43 L356.97,180.43 L357.15,180.44 L357.33,180.45 L357.51,180.45 L357.70,180.46 L357.88,180.47 L358.06,180.48 L358.24,180.48 L358.42,180.49 L358.60,180.50 L358.78,180.51 L358.96,180.52 L359.14,180.53 L359.32,180.54 L359.50,180.55 L359.68,180.56 L359.86,180.57 L360.04,180.58 L360.22,180.59 L360.40,180.60 L360.58,180.62 L360.76,180.63 L360.95,180.64 L361.13,180.66 L361.31,180.67 L361.49,180.68 L361.67,180.70 L361.85,180.71 L362.03,180.72 L362.21,180.74 L362.39,180.75 L362.57,180.76 L362.75,180.78 L362.93,180.79 L363.11,180.81 L363.29,180.82 L363.47,180.83 L363.65,180.85 L363.83,180.86 L364.02,180.87 L364.20,180.89 L364.38,180.90 L364.56,180.91 L364.74,180.93 L364.92,180.94 L365.10,180.95 L365.28,180.96 L365.46,180.97 L365.64,180.98 L365.82,181.00 L366.00,181.01 L366.18,181.02 L366.36,181.02 L366.54,181.03 L366.72,181.04 L366.90,181.05 L367.08,181.06 L367.27,181.06 L367.45,181.07 L367.63,181.08 L367.81,181.08 L367.99,181.09 L368.17,181.09 L368.35,181.09 L368.53,181.10 L368.71,181.10 L368.89,181.10 L369.07,181.10 L369.25,181.10 L369.43,181.10 L369.61,181.10 L369.79,181.10 L369.97,181.10 L370.15,181.10 L370.33,181.10 L370.52,181.10 L370.70,181.10 L370.88,181.10 L371.06,181.10 L371.24,181.10 L371.42,181.10 L371.60,181.10 L371.78,181.10 L371.96,181.10 L372.14,181.10 L372.32,181.10 L372.50,181.10 L372.68,181.10 L372.86,181.10 L373.04,181.10 L373.22,181.10 L373.40,181.10 L373.58,181.10 L373.77,181.10 L373.95,181.10 L374.13,181.10 L374.31,181.10 L374.49,181.10 L374.67,181.10 L374.85,181.10 L375.03,181.10 L375.21,181.10 L375.39,181.10 L375.57,181.10 L375.75,181.10 L375.93,181.10 L376.11,181.10 L376.29,181.10 L376.47,181.10 L376.65,181.10 L376.84,181.09 L377.02,181.09 L377.20,181.08 L377.38,181.07 L377.56,181.06 L377.74,181.05 L377.92,181.04 L378.10,181.02 L378.28,181.01 L378.46,180.99 L378.64,180.97 L378.82,180.95 L379.00,180.92 L379.18,180.90 L379.36,180.87 L379.54,180.84 L379.72,180.82 L379.90,180.79 L380.09,180.75 L380.27,180.72 L380.45,180.69 L380.63,180.65 L380.81,180.62 L380.99,180.58 L381.17,180.55 L381.35,180.51 L381.53,180.47 L381.71,180.43 L381.89,180.39 L382.07,180.35 L382.25,180.31 L382.43,180.27 L382.61,180.23 L382.79,180.18 L382.97,180.14 L383.15,180.10 L383.34,180.06 L383.52,180.01 L383.70,179.97 L383.88,179.93 L384.06,179.88 L384.24,179.84 L384.42,179.79 L384.60,179.74 L384.78,179.69 L384.96,179.63 L385.14,179.58 L385.32,179.52 L385.50,179.46 L385.68,179.40 L385.86,179.33 L386.04,179.27 L386.22,179.20 L386.41,179.13 L386.59,179.06 L386.77,178.99 L386.95,178.91 L387.13,178.83 L387.31,178.75 L387.49,178.67 L387.67,178.59 L387.85,178.51 L388.03,178.42 L388.21,178.34 L388.39,178.25 L388.57,178.16 L388.75,178.07 L388.93,177.97 L389.11,177.88 L389.29,177.78 L389.47,177.69 L389.66,177.59 L389.84,177.49 L390.02,177.39 L390.20,177.28 L390.38,177.18 L390.56,177.07 L390.74,176.96 L390.92,176.85 L391.10,176.74 L391.28,176.62 L391.46,176.50 L391.64,176.37 L391.82,176.24 L392.00,176.11 L392.18,175.97 L392.36,175.83 L392.54,175.69 L392.72,175.53 L392.91,175.38 L393.09,175.21 L393.27,175.04 L393.45,174.87 L393.63,174.68 L393.81,174.49 L393.99,174.29 L394.17,174.09 L394.35,173.87 L394.53,173.63 L394.71,173.37 L394.89,173.10 L395.07,172.80 L395.25,172.47 L395.43,172.12 L395.61,171.75 L395.79,171.36 L395.97,170.95 L396.16,170.52 L396.34,170.08 L396.52,169.62 L396.70,169.16 L396.88,168.69 L397.06,168.24 L397.24,167.73 L397.42,167.17 L397.60,166.60" stroke="#2a2cf5"/>
<path d="M22.00,181.90 L23.32,181.90 L24.65,181.90 L25.98,181.90 L27.30,181.90 L28.62,181.90 L29.95,181.90 L31.27,181.90 L32.60,181.90 L33.92,181.90 L35.25,181.90 L36.58,181.90 L37.90,181.90 L39.22,181.90 L40.55,181.90 L41.88,181.90 L43.20,181.89 L44.52,181.89 L45.85,181.89 L47.17,181.89 L48.50,181.89 L49.83,181.89 L51.15,181.89 L52.47,181.89 L53.80,181.89 L55.12,181.89 L56.45,181.89 L57.77,181.88 L59.10,181.88 L60.42,181.88 L61.75,181.88 L63.07,181.88 L64.40,181.88 L65.72,181.88 L67.05,181.88 L68.38,181.88 L69.70,181.87 L71.03,181.87 L72.35,181.87 L73.67,181.87 L75.00,181.87 L76.32,181.87 L77.65,181.86 L78.97,181.86 L80.30,181.86 L81.62,181.86 L82.95,181.86 L84.28,181.86 L85.60,181.85 L86.92,181.85 L88.25,181.85 L89.58,181.85 L90.90,181.85 L92.22,181.85 L93.55,181.84 L94.88,181.84 L96.20,181.84 L97.52,181.84 L98.85,181.84 L100.17,181.83 L101.50,181.83 L102.83,181.83 L104.15,181.83 L105.47,181.83 L106.80,181.82 L108.12,181.82 L109.45,181.82 L110.77,181.82 L112.10,181.81 L113.42,181.81 L114.75,181.81 L116.08,181.81 L117.40,181.80 L118.72,181.80 L120.05,181.80 L121.38,181.80 L122.70,181.79 L124.02,181.79 L125.35,181.79 L126.67,181.78 L128.00,181.78 L129.32,181.78 L130.65,181.77 L131.97,181.77 L133.30,181.76 L134.62,181.76 L135.95,181.75 L137.27,181.74 L138.60,181.74 L139.93,181.73 L141.25,181.72 L142.57,181.71 L143.90,181.70 L145.22,181.69 L146.55,181.67 L147.88,181.65 L149.20,181.62 L150.53,181.59 L151.85,181.55 L153.17,181.51 L154.50,181.47 L155.82,181.43 L157.15,181.38 L158.47,181.33 L159.80,181.28 L161.12,181.23 L162.45,181.17 L163.78,181.12 L165.10,181.07 L166.42,181.03 L167.75,180.98 L169.07,180.94 L170.40,180.90 L171.72,180.86 L173.05,180.82 L174.38,180.78 L175.70,180.75 L177.03,180.72 L178.35,180.69 L179.67,180.65 L181.00,180.62 L182.32,180.59 L183.65,180.56 L184.97,180.52 L186.30,180.49 L187.62,180.45 L188.95,180.41 L190.28,180.37 L191.60,180.33 L192.92,180.28 L194.25,180.22 L195.57,180.16 L196.90,180.08 L198.22,180.00 L199.55,179.92 L200.88,179.82 L202.20,179.73 L203.53,179.64 L204.85,179.55 L206.17,179.48 L207.50,179.42 L208.82,179.38 L210.15,179.35 L211.47,179.34 L212.80,179.34 L214.12,179.35 L215.45,179.37 L216.78,179.39 L218.10,179.42 L219.42,179.45 L220.75,179.48 L222.07,179.52 L223.40,179.56 L224.72,179.61 L226.05,179.66 L227.38,179.72 L228.70,179.79 L230.03,179.86 L231.35,179.95 L232.67,180.04 L234.00,180.15 L235.32,180.26 L236.65,180.39 L237.97,180.53 L239.30,180.69 L240.62,180.88 L241.95,181.09 L243.28,181.33 L244.60,181.59 L245.92,181.88 L247.25,182.19 L248.57,182.52 L249.90,182.86 L251.22,183.20 L252.55,183.55 L253.88,183.88 L255.20,184.22 L256.52,184.55 L257.85,184.87 L259.17,185.20 L260.50,185.54 L261.82,185.89 L263.15,186.25 L264.48,186.65 L265.80,187.07 L267.12,187.53 L268.45,188.03 L269.77,188.58 L271.10,189.17 L272.42,189.80 L273.75,190.46 L275.07,191.13 L276.40,191.81 L277.73,192.47 L279.05,193.12 L280.38,193.73 L281.70,194.31 L283.02,194.87 L284.35,195.39 L285.68,195.89 L287.00,196.38 L288.32,196.84 L289.65,197.29 L290.97,197.73 L292.30,198.15 L293.62,198.56 L294.95,198.96 L296.27,199.34 L297.60,199.72 L298.93,200.09 L300.25,200.45 L301.57,200.79 L302.90,201.13 L304.22,201.44 L305.55,201.75 L306.88,202.04 L308.20,202.31 L309.52,202.57 L310.85,202.81 L312.18,203.04 L313.50,203.26 L314.82,203.47 L316.15,203.67 L317.47,203.86 L318.80,204.03 L320.12,204.19 L321.45,204.34 L322.77,204.47 L324.10,204.58 L325.43,204.68 L326.75,204.76 L328.07,204.83 L329.40,204.89 L330.72,204.95 L332.05,205.00 L333.38,205.06 L334.70,205.11 L336.02,205.16 L337.35,205.21 L338.68,205.26 L340.00,205.31 L340.18,205.35 L340.36,205.38 L340.54,205.41 L340.72,205.43 L340.90,205.45 L341.08,205.47 L341.26,205.48 L341.44,205.50 L341.63,205.52 L341.81,205.54 L341.99,205.56 L342.17,205.57 L342.35,205.59 L342.53,205.61 L342.71,205.63 L342.89,205.65 L343.07,205.68 L343.25,205.70 L343.43,205.72 L343.61,205.74 L343.79,205.76 L343.97,205.78 L344.15,205.81 L344.33,205.83 L344.51,205.85 L344.69,205.88 L344.88,205.90 L345.06,205.92 L345.24,205.95 L345.42,205.97 L345.60,206.00 L345.78,206.02 L345.96,206.05 L346.14,206.07 L346.32,206.10 L346.50,206.12 L346.68,206.15 L346.86,206.17 L347.04,206.20 L347.22,206.22 L347.40,206.25 L347.58,206.28 L347.76,206.30 L347.94,206.33 L348.13,206.35 L348.31,206.38 L348.49,206.41 L348.67,206.43 L348.85,206.46 L349.03,206.49 L349.21,206.51 L349.39,206.54 L349.57,206.57 L349.75,206.59 L349.93,206.62 L350.11,206.65 L350.29,206.67 L350.47,206.70 L350.65,206.73 L350.83,206.75 L351.01,206.78 L351.19,206.81 L351.38,206.83 L351.56,206.86 L351.74,206.88 L351.92,206.91 L352.10,206.94 L352.28,206.96 L352.46,206.99 L352.64,207.01 L352.82,207.04 L353.00,207.06 L353.18,207.09 L353.36,207.11 L353.54,207.14 L353.72,207.16 L353.90,207.19 L354.08,207.21 L354.26,207.24 L354.45,207.26 L354.63,207.28 L354.81,207.31 L354.99,207.33 L355.17,207.36 L355.35,207.38 L355.53,207.41 L355.71,207.43 L355.89,207.46 L356.07,207.49 L356.25,207.51 L356.43,207.54 L356.61,207.56 L356.79,207.59 L356.97,207.61 L357.15,207.64 L357.33,207.67 L357.51,207.69 L357.70,207.72 L357.88,207.75 L358.06,207.77 L358.24,207.80 L358.42,207.83 L358.60,207.85 L358.78,207.88 L358.96,207.91 L359.14,207.93 L359.32,207.96 L359.50,207.99 L359.68,208.01 L359.86,208.04 L360.04,208.07 L360.22,208.09 L360.40,208.12 L360.58,208.15 L360.76,208.17 L360.95,208.20 L361.13,208.23 L361.31,208.25 L361.49,208.28 L361.67,208.31 L361.85,208.33 L362.03,208.36 L362.21,208.39 L362.39,208.41 L362.57,208.44 L362.75,208.47 L362.93,208.49 L363.11,208.52 L363.29,208.55 L363.47,208.57 L363.65,208.60 L363.83,208.62 L364.02,208.65 L364.20,208.68 L364.38,208.70 L364.56,208.73 L364.74,208.75 L364.92,208.78 L365.10,208.80 L365.28,208.83 L365.46,208.85 L365.64,208.88 L365.82,208.90 L366.00,208.92 L366.18,208.95 L366.36,208.97 L366.54,209.00 L366.72,209.02 L366.90,209.04 L367.08,209.07 L367.27,209.09 L367.45,209.11 L367.63,209.13 L367.81,209.16 L367.99,209.18 L368.17,209.20 L368.35,209.22 L368.53,209.24 L368.71,209.27 L368.89,209.29 L369.07,209.31 L369.25,209.33 L369.43,209.35 L369.61,209.37 L369.79,209.40 L369.97,209.42 L370.15,209.44 L370.33,209.47 L370.52,209.49 L370.70,209.51 L370.88,209.54 L371.06,209.56 L371.24,209.58 L371.42,209.61 L371.60,209.63 L371.78,209.66 L371.96,209.68 L372.14,209.71 L372.32,209.73 L372.50,209.75 L372.68,209.78 L372.86,209.80 L373.04,209.82 L373.22,209.84 L373.40,209.87 L373.58,209.89 L373.77,209.91 L373.95,209.93 L374.13,209.95 L374.31,209.97 L374.49,209.99 L374.67,210.01 L374.85,210.03 L375.03,210.04 L375.21,210.06 L375.39,210.08 L375.57,210.09 L375.75,210.11 L375.93,210.12 L376.11,210.13 L376.29,210.14 L376.47,210.15 L376.65,210.16 L376.84,210.17 L377.02,210.18 L377.20,210.18 L377.38,210.19 L377.56,210.19 L377.74,210.19 L377.92,210.19 L378.10,210.19 L378.28,210.19 L378.46,210.18 L378.64,210.17 L378.82,210.16 L379.00,210.14 L379.18,210.12 L379.36,210.10 L379.54,210.08 L379.72,210.06 L379.90,210.03 L380.09,210.00 L380.27,209.96 L380.45,209.93 L380.63,209.89 L380.81,209.86 L380.99,209.82 L381.17,209.77 L381.35,209.73 L381.53,209.69 L381.71,209.64 L381.89,209.60 L382.07,209.55 L382.25,209.50 L382.43,209.45 L382.61,209.40 L382.79,209.35 L382.97,209.30 L383.15,209.25 L383.34,209.19 L383.52,209.14 L383.70,209.09 L383.88,209.03 L384.06,208.98 L384.24,208.92 L384.42,208.86 L384.60,208.80 L384.78,208.73 L384.96,208.66 L385.14,208.59 L385.32,208.51 L385.50,208.44 L385.68,208.36 L385.86,208.27 L386.04,208.19 L386.22,208.10 L386.41,208.00 L386.59,207.91 L386.77,207.81 L386.95,207.71 L387.13,207.61 L387.31,207.51 L387.49,207.40 L387.67,207.29 L387.85,207.18 L388.03,207.06 L388.21,206.95 L388.39,206.83 L388.57,206.71 L388.75,206.58 L388.93,206.45 L389.11,206.31 L389.29,206.17 L389.47,206.02 L389.66,205.87 L389.84,205.71 L390.02,205.55 L390.20,205.38 L390.38,205.21 L390.56,205.03 L390.74,204.85 L390.92,204.66 L391.10,204.47 L391.28,204.28 L391.46,204.08 L391.64,203.88 L391.82,203.67 L392.00,203.46 L392.18,203.25 L392.36,203.03 L392.54,202.81 L392.72,202.58 L392.91,202.34 L393.09,202.10 L393.27,201.86 L393.45,201.60 L393.63,201.34 L393.81,201.07 L393.99,200.79 L394.17,200.51 L394.35,200.22 L394.53,199.92 L394.71,199.61 L394.89,199.30 L395.07,198.98 L395.25,198.64 L395.43,198.30 L395.61,197.94 L395.79,197.57 L395.97,197.18 L396.16,196.79 L396.34,196.37 L396.52,195.95 L396.70,195.52 L396.88,195.09 L397.06,194.67 L397.24,194.17 L397.42,193.69 L397.60,193.20" stroke="#2a2cf5"/>
<path d="M22.00,75.65 L23.32,75.59 L24.65,75.53 L25.98,75.46 L27.30,75.40 L28.62,75.34 L29.95,75.28 L31.27,75.22 L32.60,75.17 L33.92,75.11 L35.25,75.05 L36.58,74.99 L37.90,74.94 L39.22,74.88 L40.55,74.83 L41.88,74.78 L43.20,74.73 L44.52,74.67 L45.85,74.62 L47.17,74.57 L48.50,74.52 L49.83,74.47 L51.15,74.42 L52.47,74.38 L53.80,74.33 L55.12,74.28 L56.45,74.23 L57.77,74.19 L59.10,74.14 L60.42,74.09 L61.75,74.04 L63.07,74.00 L64.40,73.95 L65.72,73.90 L67.05,73.86 L68.38,73.81 L69.70,73.76 L71.03,73.71 L72.35,73.66 L73.67,73.62 L75.00,73.57 L76.32,73.52 L77.65,73.47 L78.97,73.42 L80.30,73.37 L81.62,73.33 L82.95,73.28 L84.28,73.23 L85.60,73.18 L86.92,73.13 L88.25,73.08 L89.58,73.04 L90.90,72.99 L92.22,72.94 L93.55,72.89 L94.88,72.84 L96.20,72.79 L97.52,72.75 L98.85,72.70 L100.17,72.65 L101.50,72.60 L102.83,72.56 L104.15,72.51 L105.47,72.46 L106.80,72.41 L108.12,72.37 L109.45,72.32 L110.77,72.27 L112.10,72.23 L113.42,72.18 L114.75,72.13 L116.08,72.09 L117.40,72.04 L118.72,71.99 L120.05,71.94 L121.38,71.89 L122.70,71.84 L124.02,71.78 L125.35,71.73 L126.67,71.68 L128.00,71.63 L129.32,71.59 L130.65,71.55 L131.97,71.52 L133.30,71.50 L134.62,71.49 L135.95,71.49 L137.27,71.50 L138.60,71.53 L139.93,71.56 L141.25,71.60 L142.57,71.66 L143.90,71.72 L145.22,71.79 L146.55,71.86 L147.88,71.94 L149.20,72.03 L150.53,72.12 L151.85,72.21 L153.17,72.31 L154.50,72.41 L155.82,72.51 L157.15,72.62 L158.47,72.74 L159.80,72.86 L161.12,72.99 L162.45,73.12 L163.78,73.27 L165.10,73.43 L166.42,73.60 L167.75,73.77 L169.07,73.96 L170.40,74.16 L171.72,74.37 L173.05,74.59 L174.38,74.81 L175.70,75.05 L177.03,75.30 L178.35,75.56 L179.67,75.83 L181.00,76.12 L182.32,76.43 L183.65,76.76 L184.97,77.12 L186.30,77.51 L187.62,77.93 L188.95,78.37 L190.28,78.84 L191.60,79.32 L192.92,79.81 L194.25,80.31 L195.57,80.82 L196.90,81.33 L198.22,81.85 L199.55,82.38 L200.88,82.92 L202.20,83.47 L203.53,84.04 L204.85,84.64 L206.17,85.27 L207.50,85.93 L208.82,86.62 L210.15,87.35 L211.47,88.12 L212.80,88.91 L214.12,89.72 L215.45,90.54 L216.78,91.37 L218.10,92.20 L219.42,93.02 L220.75,93.84 L222.07,94.66 L223.40,95.48 L224.72,96.31 L226.05,97.17 L227.38,98.05 L228.70,98.97 L230.03,99.91 L231.35,100.89 L232.67,101.90 L234.00,102.94 L235.32,104.00 L236.65,105.08 L237.97,106.19 L239.30,107.32 L240.62,108.47 L241.95,109.64 L243.28,110.83 L244.60,112.04 L245.92,113.27 L247.25,114.50 L248.57,115.75 L249.90,117.00 L251.22,118.25 L252.55,119.51 L253.88,120.77 L255.20,122.03 L256.52,123.29 L257.85,124.54 L259.17,125.79 L260.50,127.02 L261.82,128.24 L263.15,129.44 L264.48,130.62 L265.80,131.78 L267.12,132.92 L268.45,134.04 L269.77,135.15 L271.10,136.23 L272.42,137.31 L273.75,138.36 L275.07,139.40 L276.40,140.42 L277.73,141.41 L279.05,142.39 L280.38,143.35 L281.70,144.29 L283.02,145.21 L284.35,146.12 L285.68,147.01 L287.00,147.88 L288.32,148.74 L289.65,149.59 L290.97,150.43 L292.30,151.26 L293.62,152.08 L294.95,152.89 L296.27,153.67 L297.60,154.43 L298.93,155.14 L300.25,155.82 L301.57,156.46 L302.90,157.06 L304.22,157.64 L305.55,158.20 L306.88,158.75 L308.20,159.30 L309.52,159.85 L310.85,160.40 L312.18,160.94 L313.50,161.47 L314.82,161.97 L316.15,162.45 L317.47,162.90 L318.80,163.32 L320.12,163.71 L321.45,164.08 L322.77,164.43 L324.10,164.75 L325.43,165.04 L326.75,165.31 L328.07,165.56 L329.40,165.78 L330.72,165.98 L332.05,166.15 L333.38,166.29 L334.70,166.40 L336.02,166.48 L337.35,166.54 L338.68,166.57 L340.00,166.59 L340.18,166.60 L340.36,166.59 L340.54,166.58 L340.72,166.57 L340.90,166.57 L341.08,166.56 L341.26,166.55 L341.44,166.54 L341.63,166.53 L341.81,166.52 L341.99,166.50 L342.17,166.49 L342.35,166.47 L342.53,166.45 L342.71,166.43 L342.89,166.41 L343.07,166.39 L343.25,166.37 L343.43,166.34 L343.61,166.32 L343.79,166.29 L343.97,166.26 L344.15,166.23 L344.33,166.20 L344.51,166.17 L344.69,166.14 L344.88,166.11 L345.06,166.07 L345.24,166.04 L345.42,166.01 L345.60,165.97 L345.78,165.93 L345.96,165.90 L346.14,165.86 L346.32,165.82 L346.50,165.78 L346.68,165.75 L346.86,165.71 L347.04,165.67 L347.22,165.63 L347.40,165.59 L347.58,165.55 L347.76,165.51 L347.94,165.47 L348.13,165.42 L348.31,165.38 L348.49,165.33 L348.67,165.28 L348.85,165.23 L349.03,165.18 L349.21,165.13 L349.39,165.08 L349.57,165.02 L349.75,164.97 L349.93,164.91 L350.11,164.85 L350.29,164.79 L350.47,164.73 L350.65,164.66 L350.83,164.60 L351.01,164.54 L351.19,164.47 L351.38,164.40 L351.56,164.34 L351.74,164.27 L351.92,164.20 L352.10,164.13 L352.28,164.06 L352.46,163.99 L352.64,163.92 L352.82,163.85 L353.00,163.77 L353.18,163.70 L353.36,163.63 L353.54,163.55 L353.72,163.48 L353.90,163.40 L354.08,163.33 L354.26,163.25 L354.45,163.17 L354.63,163.10 L354.81,163.02 L354.99,162.94 L355.17,162.85 L355.35,162.77 L355.53,162.69 L355.71,162.60 L355.89,162.52 L356.07,162.43 L356.25,162.34 L356.43,162.25 L356.61,162.16 L356.79,162.07 L356.97,161.97 L357.15,161.88 L357.33,161.78 L357.51,161.69 L357.70,161.59 L357.88,161.49 L358.06,161.39 L358.24,161.28 L358.42,161.18 L358.60,161.07 L358.78,160.97 L358.96,160.86 L359.14,160.75 L359.32,160.64 L359.50,160.53 L359.68,160.41 L359.86,160.30 L360.04,160.18 L360.22,160.06 L360.40,159.94 L360.58,159.82 L360.76,159.69 L360.95,159.56 L361.13,159.43 L361.31,159.30 L361.49,159.16 L361.67,159.02 L361.85,158.88 L362.03,158.74 L362.21,158.60 L362.39,158.45 L362.57,158.30 L362.75,158.14 L362.93,157.99 L363.11,157.83 L363.29,157.67 L363.47,157.51 L363.65,157.34 L363.83,157.18 L364.02,157.01 L364.20,156.84 L364.38,156.66 L364.56,156.49 L364.74,156.31 L364.92,156.13 L365.10,155.94 L365.28,155.75 L365.46,155.55 L365.64,155.35 L365.82,155.15 L366.00,154.93 L366.18,154.71 L366.36,154.49 L366.54,154.26 L366.72,154.03 L366.90,153.79 L367.08,153.56 L367.27,153.32 L367.45,153.07 L367.63,152.83 L367.81,152.59 L367.99,152.35 L368.17,152.11 L368.35,151.87 L368.53,151.64 L368.71,151.40 L368.89,151.17 L369.07,150.94 L369.25,150.72 L369.43,150.50 L369.61,150.27 L369.79,150.05 L369.97,149.83 L370.15,149.61 L370.33,149.38 L370.52,149.16 L370.70,148.93 L370.88,148.70 L371.06,148.46 L371.24,148.22 L371.42,147.98 L371.60,147.73 L371.78,147.49 L371.96,147.23 L372.14,146.98 L372.32,146.72 L372.50,146.46 L372.68,146.20 L372.86,145.94 L373.04,145.67 L373.22,145.40 L373.40,145.13 L373.58,144.86 L373.77,144.58 L373.95,144.31 L374.13,144.03 L374.31,143.75 L374.49,143.46 L374.67,143.17 L374.85,142.89 L375.03,142.60 L375.21,142.30 L375.39,142.01 L375.57,141.71 L375.75,141.41 L375.93,141.11 L376.11,140.80 L376.29,140.50 L376.47,140.19 L376.65,139.88 L376.84,139.56 L377.02,139.24 L377.20,138.92 L377.38,138.60 L377.56,138.27 L377.74,137.94 L377.92,137.61 L378.10,137.27 L378.28,136.94 L378.46,136.59 L378.64,136.25 L378.82,135.90 L379.00,135.55 L379.18,135.19 L379.36,134.84 L379.54,134.48 L379.72,134.11 L379.90,133.75 L380.09,133.38 L380.27,133.00 L380.45,132.62 L380.63,132.24 L380.81,131.86 L380.99,131.46 L381.17,131.07 L381.35,130.67 L381.53,130.26 L381.71,129.85 L381.89,129.43 L382.07,129.00 L382.25,128.57 L382.43,128.13 L382.61,127.68 L382.79,127.22 L382.97,126.75 L383.15,126.27 L383.34,125.78 L383.52,125.27 L383.70,124.76 L383.88,124.24 L384.06,123.71 L384.24,123.17 L384.42,122.63 L384.60,122.08 L384.78,121.53 L384.96,120.98 L385.14,120.43 L385.32,119.87 L385.50,119.32 L385.68,118.78 L385.86,118.23 L386.04,117.70 L386.22,117.17 L386.41,116.64 L386.59,116.13 L386.77,115.62 L386.95,115.13 L387.13,114.65 L387.31,114.17 L387.49,113.70 L387.67,113.25 L387.85,112.80 L388.03,112.36 L388.21,111.92 L388.39,111.48 L388.57,111.05 L388.75,110.62 L388.93,110.19 L389.11,109.75 L389.29,109.32 L389.47,108.88 L389.66,108.43 L389.84,107.98 L390.02,107.52 L390.20,107.05 L390.38,106.57 L390.56,106.07 L390.74,105.57 L390.92,105.05 L391.10,104.52 L391.28,103.98 L391.46,103.42 L391.64,102.86 L391.82,102.28 L392.00,101.69 L392.18,101.10 L392.36,100.49 L392.54,99.87 L392.72,99.25 L392.91,98.61 L393.09,97.97 L393.27,97.33 L393.45,96.67 L393.63,96.00 L393.81,95.32 L393.99,94.63 L394.17,93.92 L394.35,93.20 L394.53,92.46 L394.71,91.71 L394.89,90.95 L395.07,90.19 L395.25,89.44 L395.43,88.71 L395.61,87.99 L395.79,87.30 L395.97,86.64 L396.16,86.00 L396.34,85.39 L396.52,84.80 L396.70,84.24 L396.88,83.71 L397.06,83.23 L397.24,82.60 L397.42,82.11 L397.60,81.65" stroke="#2bd47c"/>
<path d="M22.00,130.90 L23.32,130.85 L24.65,130.80 L25.98,130.74 L27.30,130.70 L28.62,130.65 L29.95,130.60 L31.27,130.55 L32.60,130.50 L33.92,130.45 L35.25,130.41 L36.58,130.36 L37.90,130.31 L39.22,130.26 L40.55,130.21 L41.88,130.16 L43.20,130.11 L44.52,130.06 L45.85,130.02 L47.17,129.97 L48.50,129.92 L49.83,129.87 L51.15,129.82 L52.47,129.78 L53.80,129.73 L55.12,129.68 L56.45,129.63 L57.77,129.58 L59.10,129.54 L60.42,129.49 L61.75,129.44 L63.07,129.40 L64.40,129.35 L65.72,129.30 L67.05,129.25 L68.38,129.21 L69.70,129.16 L71.03,129.11 L72.35,129.07 L73.67,129.02 L75.00,128.98 L76.32,128.93 L77.65,128.89 L78.97,128.84 L80.30,128.80 L81.62,128.75 L82.95,128.71 L84.28,128.67 L85.60,128.62 L86.92,128.58 L88.25,128.53 L89.58,128.49 L90.90,128.45 L92.22,128.40 L93.55,128.36 L94.88,128.32 L96.20,128.27 L97.52,128.23 L98.85,128.18 L100.17,128.14 L101.50,128.10 L102.83,128.05 L104.15,128.01 L105.47,127.96 L106.80,127.92 L108.12,127.87 L109.45,127.83 L110.77,127.78 L112.10,127.73 L113.42,127.69 L114.75,127.64 L116.08,127.59 L117.40,127.54 L118.72,127.49 L120.05,127.45 L121.38,127.40 L122.70,127.34 L124.02,127.29 L125.35,127.24 L126.67,127.19 L128.00,127.13 L129.32,127.08 L130.65,127.02 L131.97,126.97 L133.30,126.91 L134.62,126.86 L135.95,126.80 L137.27,126.75 L138.60,126.70 L139.93,126.64 L141.25,126.59 L142.57,126.54 L143.90,126.49 L145.22,126.44 L146.55,126.39 L147.88,126.34 L149.20,126.28 L150.53,126.23 L151.85,126.17 L153.17,126.12 L154.50,126.06 L155.82,126.01 L157.15,125.96 L158.47,125.91 L159.80,125.86 L161.12,125.82 L162.45,125.78 L163.78,125.75 L165.10,125.72 L166.42,125.70 L167.75,125.69 L169.07,125.68 L170.40,125.68 L171.72,125.69 L173.05,125.70 L174.38,125.73 L175.70,125.76 L177.03,125.80 L178.35,125.85 L179.67,125.91 L181.00,125.97 L182.32,126.04 L183.65,126.11 L184.97,126.19 L186.30,126.28 L187.62,126.36 L188.95,126.46 L190.28,126.56 L191.60,126.66 L192.92,126.77 L194.25,126.89 L195.57,127.02 L196.90,127.16 L198.22,127.32 L199.55,127.50 L200.88,127.69 L202.20,127.90 L203.53,128.13 L204.85,128.37 L206.17,128.62 L207.50,128.88 L208.82,129.14 L210.15,129.42 L211.47,129.72 L212.80,130.02 L214.12,130.35 L215.45,130.69 L216.78,131.07 L218.10,131.47 L219.42,131.91 L220.75,132.37 L222.07,132.86 L223.40,133.36 L224.72,133.88 L226.05,134.41 L227.38,134.94 L228.70,135.48 L230.03,136.03 L231.35,136.61 L232.67,137.22 L234.00,137.86 L235.32,138.52 L236.65,139.22 L237.97,139.93 L239.30,140.65 L240.62,141.38 L241.95,142.11 L243.28,142.84 L244.60,143.55 L245.92,144.26 L247.25,144.96 L248.57,145.65 L249.90,146.34 L251.22,147.03 L252.55,147.75 L253.88,148.50 L255.20,149.28 L256.52,150.12 L257.85,150.99 L259.17,151.89 L260.50,152.82 L261.82,153.74 L263.15,154.65 L264.48,155.54 L265.80,156.41 L267.12,157.25 L268.45,158.10 L269.77,158.94 L271.10,159.81 L272.42,160.69 L273.75,161.59 L275.07,162.50 L276.40,163.42 L277.73,164.32 L279.05,165.19 L280.38,166.04 L281.70,166.85 L283.02,167.62 L284.35,168.37 L285.68,169.11 L287.00,169.83 L288.32,170.55 L289.65,171.28 L290.97,172.04 L292.30,172.83 L293.62,173.66 L294.95,174.52 L296.27,175.41 L297.60,176.31 L298.93,177.20 L300.25,178.07 L301.57,178.91 L302.90,179.69 L304.22,180.43 L305.55,181.11 L306.88,181.76 L308.20,182.37 L309.52,182.95 L310.85,183.50 L312.18,184.04 L313.50,184.56 L314.82,185.06 L316.15,185.55 L317.47,186.02 L318.80,186.47 L320.12,186.91 L321.45,187.32 L322.77,187.71 L324.10,188.08 L325.43,188.41 L326.75,188.72 L328.07,189.00 L329.40,189.26 L330.72,189.49 L332.05,189.69 L333.38,189.87 L334.70,190.02 L336.02,190.15 L337.35,190.25 L338.68,190.34 L340.00,190.40 L340.18,190.44 L340.36,190.47 L340.54,190.49 L340.72,190.51 L340.90,190.52 L341.08,190.53 L341.26,190.53 L341.44,190.54 L341.63,190.55 L341.81,190.55 L341.99,190.56 L342.17,190.57 L342.35,190.57 L342.53,190.58 L342.71,190.59 L342.89,190.59 L343.07,190.60 L343.25,190.60 L343.43,190.61 L343.61,190.61 L343.79,190.62 L343.97,190.62 L344.15,190.63 L344.33,190.63 L344.51,190.64 L344.69,190.64 L344.88,190.65 L345.06,190.65 L345.24,190.65 L345.42,190.66 L345.60,190.66 L345.78,190.67 L345.96,190.67 L346.14,190.67 L346.32,190.68 L346.50,190.68 L346.68,190.68 L346.86,190.69 L347.04,190.69 L347.22,190.69 L347.40,190.70 L347.58,190.70 L347.76,190.70 L347.94,190.70 L348.13,190.71 L348.31,190.71 L348.49,190.71 L348.67,190.72 L348.85,190.72 L349.03,190.72 L349.21,190.72 L349.39,190.73 L349.57,190.73 L349.75,190.73 L349.93,190.73 L350.11,190.73 L350.29,190.74 L350.47,190.74 L350.65,190.74 L350.83,190.74 L351.01,190.75 L351.19,190.75 L351.38,190.75 L351.56,190.75 L351.74,190.75 L351.92,190.76 L352.10,190.76 L352.28,190.76 L352.46,190.76 L352.64,190.76 L352.82,190.77 L353.00,190.77 L353.18,190.77 L353.36,190.77 L353.54,190.77 L353.72,190.78 L353.90,190.78 L354.08,190.78 L354.26,190.78 L354.45,190.79 L354.63,190.79 L354.81,190.79 L354.99,190.79 L355.17,190.80 L355.35,190.80 L355.53,190.80 L355.71,190.80 L355.89,190.80 L356.07,190.81 L356.25,190.81 L356.43,190.81 L356.61,190.82 L356.79,190.82 L356.97,190.82 L357.15,190.82 L357.33,190.83 L357.51,190.83 L357.70,190.83 L357.88,190.84 L358.06,190.84 L358.24,190.84 L358.42,190.85 L358.60,190.85 L358.78,190.85 L358.96,190.86 L359.14,190.86 L359.32,190.86 L359.50,190.87 L359.68,190.87 L359.86,190.88 L360.04,190.88 L360.22,190.88 L360.40,190.89 L360.58,190.89 L360.76,190.90 L360.95,190.90 L361.13,190.91 L361.31,190.91 L361.49,190.91 L361.67,190.92 L361.85,190.92 L362.03,190.93 L362.21,190.93 L362.39,190.94 L362.57,190.94 L362.75,190.95 L362.93,190.95 L363.11,190.96 L363.29,190.96 L363.47,190.97 L363.65,190.97 L363.83,190.98 L364.02,190.98 L364.20,190.99 L364.38,190.99 L364.56,191.00 L364.74,191.00 L364.92,191.01 L365.10,191.02 L365.28,191.02 L365.46,191.03 L365.64,191.03 L365.82,191.04 L366.00,191.04 L366.18,191.05 L366.36,191.06 L366.54,191.06 L366.72,191.07 L366.90,191.07 L367.08,191.08 L367.27,191.09 L367.45,191.09 L367.63,191.10 L367.81,191.11 L367.99,191.11 L368.17,191.12 L368.35,191.13 L368.53,191.13 L368.71,191.14 L368.89,191.15 L369.07,191.15 L369.25,191.16 L369.43,191.17 L369.61,191.18 L369.79,191.19 L369.97,191.19 L370.15,191.20 L370.33,191.21 L370.52,191.22 L370.70,191.23 L370.88,191.24 L371.06,191.26 L371.24,191.27 L371.42,191.28 L371.60,191.29 L371.78,191.30 L371.96,191.31 L372.14,191.33 L372.32,191.34 L372.50,191.35 L372.68,191.37 L372.86,191.38 L373.04,191.39 L373.22,191.41 L373.40,191.42 L373.58,191.44 L373.77,191.45 L373.95,191.46 L374.13,191.48 L374.31,191.49 L374.49,191.51 L374.67,191.52 L374.85,191.54 L375.03,191.55 L375.21,191.57 L375.39,191.58 L375.57,191.60 L375.75,191.61 L375.93,191.63 L376.11,191.64 L376.29,191.65 L376.47,191.67 L376.65,191.68 L376.84,191.70 L377.02,191.71 L377.20,191.73 L377.38,191.74 L377.56,191.75 L377.74,191.77 L377.92,191.78 L378.10,191.79 L378.28,191.81 L378.46,191.82 L378.64,191.83 L378.82,191.85 L379.00,191.86 L379.18,191.87 L379.36,191.88 L379.54,191.89 L379.72,191.90 L379.90,191.92 L380.09,191.93 L380.27,191.94 L380.45,191.95 L380.63,191.96 L380.81,191.96 L380.99,191.97 L381.17,191.98 L381.35,191.99 L381.53,192.00 L381.71,192.00 L381.89,192.01 L382.07,192.02 L382.25,192.02 L382.43,192.03 L382.61,192.03 L382.79,192.04 L382.97,192.04 L383.15,192.04 L383.34,192.04 L383.52,192.05 L383.70,192.05 L383.88,192.05 L384.06,192.05 L384.24,192.05 L384.42,192.05 L384.60,192.05 L384.78,192.05 L384.96,192.05 L385.14,192.05 L385.32,192.05 L385.50,192.04 L385.68,192.04 L385.86,192.04 L386.04,192.04 L386.22,192.04 L386.41,192.03 L386.59,192.03 L386.77,192.03 L386.95,192.03 L387.13,192.02 L387.31,192.02 L387.49,192.02 L387.67,192.01 L387.85,192.01 L388.03,192.01 L388.21,192.00 L388.39,192.00 L388.57,191.99 L388.75,191.99 L388.93,191.98 L389.11,191.98 L389.29,191.97 L389.47,191.97 L389.66,191.96 L389.84,191.95 L390.02,191.93 L390.20,191.92 L390.38,191.89 L390.56,191.87 L390.74,191.83 L390.92,191.79 L391.10,191.74 L391.28,191.69 L391.46,191.63 L391.64,191.56 L391.82,191.49 L392.00,191.42 L392.18,191.34 L392.36,191.25 L392.54,191.17 L392.72,191.07 L392.91,190.98 L393.09,190.87 L393.27,190.75 L393.45,190.62 L393.63,190.48 L393.81,190.32 L393.99,190.15 L394.17,189.97 L394.35,189.78 L394.53,189.57 L394.71,189.35 L394.89,189.12 L395.07,188.87 L395.25,188.60 L395.43,188.32 L395.61,188.01 L395.79,187.67 L395.97,187.30 L396.16,186.89 L396.34,186.44 L396.52,185.95 L396.70,185.42 L396.88,184.86 L397.06,184.31 L397.24,183.67 L397.42,182.93 L397.60,182.15" stroke="#2bd47c"/>
</g>
<path d="M22.00,139.65 L23.32,139.61 L24.65,139.58 L25.98,139.55 L27.30,139.52 L28.62,139.49 L29.95,139.46 L31.27,139.44 L32.60,139.41 L33.92,139.39 L35.25,139.37 L36.58,139.34 L37.90,139.33 L39.22,139.31 L40.55,139.29 L41.88,139.27 L43.20,139.26 L44.52,139.25 L45.85,139.24 L47.17,139.22 L48.50,139.21 L49.83,139.20 L51.15,139.20 L52.47,139.19 L53.80,139.18 L55.12,139.18 L56.45,139.17 L57.77,139.17 L59.10,139.16 L60.42,139.16 L61.75,139.16 L63.07,139.16 L64.40,139.15 L65.72,139.15 L67.05,139.15 L68.38,139.15 L69.70,139.16 L71.03,139.16 L72.35,139.16 L73.67,139.17 L75.00,139.18 L76.32,139.20 L77.65,139.21 L78.97,139.23 L80.30,139.25 L81.62,139.28 L82.95,139.30 L84.28,139.33 L85.60,139.36 L86.92,139.39 L88.25,139.43 L89.58,139.46 L90.90,139.50 L92.22,139.54 L93.55,139.58 L94.88,139.62 L96.20,139.66 L97.52,139.70 L98.85,139.75 L100.17,139.79 L101.50,139.84 L102.83,139.88 L104.15,139.93 L105.47,139.97 L106.80,140.02 L108.12,140.06 L109.45,140.11 L110.77,140.15 L112.10,140.20 L113.42,140.24 L114.75,140.29 L116.08,140.33 L117.40,140.37 L118.72,140.41 L120.05,140.45 L121.38,140.49 L122.70,140.52 L124.02,140.56 L125.35,140.60 L126.67,140.64 L128.00,140.67 L129.32,140.71 L130.65,140.75 L131.97,140.79 L133.30,140.83 L134.62,140.87 L135.95,140.91 L137.27,140.96 L138.60,141.00 L139.93,141.05 L141.25,141.10 L142.57,141.16 L143.90,141.21 L145.22,141.27 L146.55,141.34 L147.88,141.40 L149.20,141.48 L150.53,141.55 L151.85,141.63 L153.17,141.72 L154.50,141.81 L155.82,141.90 L157.15,142.00 L158.47,142.10 L159.80,142.21 L161.12,142.32 L162.45,142.44 L163.78,142.55 L165.10,142.68 L166.42,142.80 L167.75,142.94 L169.07,143.07 L170.40,143.22 L171.72,143.37 L173.05,143.53 L174.38,143.70 L175.70,143.88 L177.03,144.06 L178.35,144.26 L179.67,144.46 L181.00,144.68 L182.32,144.90 L183.65,145.12 L184.97,145.36 L186.30,145.60 L187.62,145.84 L188.95,146.09 L190.28,146.34 L191.60,146.60 L192.92,146.87 L194.25,147.14 L195.57,147.41 L196.90,147.70 L198.22,147.99 L199.55,148.30 L200.88,148.61 L202.20,148.94 L203.53,149.27 L204.85,149.62 L206.17,149.98 L207.50,150.34 L208.82,150.72 L210.15,151.11 L211.47,151.51 L212.80,151.93 L214.12,152.36 L215.45,152.79 L216.78,153.25 L218.10,153.72 L219.42,154.20 L220.75,154.69 L222.07,155.19 L223.40,155.70 L224.72,156.21 L226.05,156.71 L227.38,157.21 L228.70,157.71 L230.03,158.22 L231.35,158.72 L232.67,159.24 L234.00,159.78 L235.32,160.34 L236.65,160.91 L237.97,161.50 L239.30,162.10 L240.62,162.71 L241.95,163.31 L243.28,163.91 L244.60,164.50 L245.92,165.09 L247.25,165.68 L248.57,166.26 L249.90,166.84 L251.22,167.42 L252.55,168.00 L253.88,168.58 L255.20,169.16 L256.52,169.74 L257.85,170.31 L259.17,170.88 L260.50,171.45 L261.82,172.01 L263.15,172.55 L264.48,173.09 L265.80,173.63 L267.12,174.16 L268.45,174.69 L269.77,175.23 L271.10,175.79 L272.42,176.35 L273.75,176.93 L275.07,177.52 L276.40,178.11 L277.73,178.71 L279.05,179.30 L280.38,179.89 L281.70,180.48 L283.02,181.06 L284.35,181.63 L285.68,182.20 L287.00,182.76 L288.32,183.31 L289.65,183.85 L290.97,184.38 L292.30,184.89 L293.62,185.39 L294.95,185.86 L296.27,186.32 L297.60,186.76 L298.93,187.19 L300.25,187.61 L301.57,188.02 L302.90,188.41 L304.22,188.80 L305.55,189.17 L306.88,189.52 L308.20,189.85 L309.52,190.17 L310.85,190.46 L312.18,190.73 L313.50,190.98 L314.82,191.21 L316.15,191.43 L317.47,191.64 L318.80,191.83 L320.12,192.01 L321.45,192.17 L322.77,192.33 L324.10,192.47 L325.43,192.60 L326.75,192.73 L328.07,192.84 L329.40,192.95 L330.72,193.06 L332.05,193.16 L333.38,193.27 L334.70,193.37 L336.02,193.48 L337.35,193.58 L338.68,193.67 L340.00,193.75 L340.18,193.81 L340.36,193.86 L340.54,193.90 L340.72,193.93 L340.90,193.96 L341.08,193.98 L341.26,194.00 L341.44,194.02 L341.63,194.04 L341.81,194.07 L341.99,194.09 L342.17,194.11 L342.35,194.13 L342.53,194.15 L342.71,194.18 L342.89,194.20 L343.07,194.22 L343.25,194.24 L343.43,194.27 L343.61,194.29 L343.79,194.31 L343.97,194.34 L344.15,194.36 L344.33,194.38 L344.51,194.41 L344.69,194.43 L344.88,194.45 L345.06,194.48 L345.24,194.50 L345.42,194.53 L345.60,194.55 L345.78,194.57 L345.96,194.60 L346.14,194.62 L346.32,194.65 L346.50,194.67 L346.68,194.70 L346.86,194.72 L347.04,194.75 L347.22,194.77 L347.40,194.80 L347.58,194.82 L347.76,194.85 L347.94,194.87 L348.13,194.90 L348.31,194.93 L348.49,194.95 L348.67,194.98 L348.85,195.00 L349.03,195.03 L349.21,195.05 L349.39,195.08 L349.57,195.11 L349.75,195.13 L349.93,195.16 L350.11,195.18 L350.29,195.21 L350.47,195.24 L350.65,195.26 L350.83,195.29 L351.01,195.32 L351.19,195.34 L351.38,195.37 L351.56,195.39 L351.74,195.42 L351.92,195.45 L352.10,195.47 L352.28,195.50 L352.46,195.53 L352.64,195.55 L352.82,195.58 L353.00,195.60 L353.18,195.63 L353.36,195.66 L353.54,195.68 L353.72,195.71 L353.90,195.74 L354.08,195.76 L354.26,195.79 L354.45,195.82 L354.63,195.84 L354.81,195.87 L354.99,195.90 L355.17,195.92 L355.35,195.95 L355.53,195.98 L355.71,196.00 L355.89,196.03 L356.07,196.06 L356.25,196.09 L356.43,196.11 L356.61,196.14 L356.79,196.17 L356.97,196.20 L357.15,196.23 L357.33,196.26 L357.51,196.28 L357.70,196.31 L357.88,196.34 L358.06,196.37 L358.24,196.40 L358.42,196.43 L358.60,196.45 L358.78,196.48 L358.96,196.51 L359.14,196.54 L359.32,196.57 L359.50,196.60 L359.68,196.63 L359.86,196.66 L360.04,196.69 L360.22,196.72 L360.40,196.75 L360.58,196.78 L360.76,196.80 L360.95,196.83 L361.13,196.86 L361.31,196.89 L361.49,196.92 L361.67,196.95 L361.85,196.98 L362.03,197.01 L362.21,197.04 L362.39,197.07 L362.57,197.10 L362.75,197.13 L362.93,197.16 L363.11,197.19 L363.29,197.22 L363.47,197.25 L363.65,197.28 L363.83,197.31 L364.02,197.34 L364.20,197.37 L364.38,197.40 L364.56,197.43 L364.74,197.46 L364.92,197.49 L365.10,197.52 L365.28,197.55 L365.46,197.58 L365.64,197.61 L365.82,197.64 L366.00,197.67 L366.18,197.69 L366.36,197.72 L366.54,197.75 L366.72,197.78 L366.90,197.81 L367.08,197.84 L367.27,197.87 L367.45,197.90 L367.63,197.93 L367.81,197.96 L367.99,197.99 L368.17,198.02 L368.35,198.05 L368.53,198.07 L368.71,198.10 L368.89,198.13 L369.07,198.16 L369.25,198.19 L369.43,198.23 L369.61,198.26 L369.79,198.29 L369.97,198.32 L370.15,198.36 L370.33,198.39 L370.52,198.43 L370.70,198.47 L370.88,198.50 L371.06,198.54 L371.24,198.58 L371.42,198.62 L371.60,198.65 L371.78,198.69 L371.96,198.73 L372.14,198.77 L372.32,198.80 L372.50,198.84 L372.68,198.88 L372.86,198.91 L373.04,198.95 L373.22,198.98 L373.40,199.01 L373.58,199.04 L373.77,199.08 L373.95,199.10 L374.13,199.13 L374.31,199.16 L374.49,199.19 L374.67,199.21 L374.85,199.23 L375.03,199.25 L375.21,199.27 L375.39,199.29 L375.57,199.30 L375.75,199.31 L375.93,199.32 L376.11,199.33 L376.29,199.34 L376.47,199.34 L376.65,199.35 L376.84,199.35 L377.02,199.35 L377.20,199.35 L377.38,199.35 L377.56,199.35 L377.74,199.35 L377.92,199.35 L378.10,199.35 L378.28,199.35 L378.46,199.35 L378.64,199.35 L378.82,199.35 L379.00,199.35 L379.18,199.35 L379.36,199.35 L379.54,199.35 L379.72,199.35 L379.90,199.35 L380.09,199.35 L380.27,199.35 L380.45,199.35 L380.63,199.35 L380.81,199.35 L380.99,199.35 L381.17,199.35 L381.35,199.35 L381.53,199.35 L381.71,199.35 L381.89,199.35 L382.07,199.35 L382.25,199.35 L382.43,199.34 L382.61,199.34 L382.79,199.33 L382.97,199.31 L383.15,199.29 L383.34,199.26 L383.52,199.23 L383.70,199.19 L383.88,199.15 L384.06,199.10 L384.24,199.04 L384.42,198.98 L384.60,198.92 L384.78,198.85 L384.96,198.78 L385.14,198.71 L385.32,198.63 L385.50,198.55 L385.68,198.47 L385.86,198.39 L386.04,198.30 L386.22,198.22 L386.41,198.13 L386.59,198.05 L386.77,197.96 L386.95,197.87 L387.13,197.78 L387.31,197.69 L387.49,197.59 L387.67,197.50 L387.85,197.39 L388.03,197.29 L388.21,197.18 L388.39,197.06 L388.57,196.95 L388.75,196.82 L388.93,196.70 L389.11,196.57 L389.29,196.44 L389.47,196.30 L389.66,196.16 L389.84,196.02 L390.02,195.87 L390.20,195.72 L390.38,195.56 L390.56,195.41 L390.74,195.25 L390.92,195.08 L391.10,194.92 L391.28,194.75 L391.46,194.57 L391.64,194.39 L391.82,194.21 L392.00,194.02 L392.18,193.83 L392.36,193.63 L392.54,193.42 L392.72,193.21 L392.91,192.99 L393.09,192.76 L393.27,192.53 L393.45,192.29 L393.63,192.04 L393.81,191.78 L393.99,191.51 L394.17,191.24 L394.35,190.95 L394.53,190.66 L394.71,190.36 L394.89,190.04 L395.07,189.72 L395.25,189.38 L395.43,189.02 L395.61,188.64 L395.79,188.24 L395.97,187.81 L396.16,187.37 L396.34,186.89 L396.52,186.40 L396.70,185.90 L396.88,185.39 L397.06,184.90 L397.24,184.30 L397.42,183.73 L397.60,183.15" fill="none" stroke="#1f1ffa" stroke-width="1.1"/>
<path d="M22.00,101.25 L23.32,101.22 L24.65,101.19 L25.98,101.16 L27.30,101.13 L28.62,101.10 L29.95,101.07 L31.27,101.04 L32.60,101.00 L33.92,100.97 L35.25,100.94 L36.58,100.91 L37.90,100.88 L39.22,100.85 L40.55,100.81 L41.88,100.78 L43.20,100.75 L44.52,100.71 L45.85,100.68 L47.17,100.65 L48.50,100.61 L49.83,100.58 L51.15,100.55 L52.47,100.51 L53.80,100.48 L55.12,100.45 L56.45,100.41 L57.77,100.38 L59.10,100.34 L60.42,100.31 L61.75,100.27 L63.07,100.24 L64.40,100.20 L65.72,100.17 L67.05,100.13 L68.38,100.09 L69.70,100.06 L71.03,100.02 L72.35,99.98 L73.67,99.94 L75.00,99.91 L76.32,99.87 L77.65,99.83 L78.97,99.79 L80.30,99.75 L81.62,99.71 L82.95,99.66 L84.28,99.62 L85.60,99.58 L86.92,99.54 L88.25,99.49 L89.58,99.45 L90.90,99.41 L92.22,99.37 L93.55,99.32 L94.88,99.28 L96.20,99.24 L97.52,99.20 L98.85,99.15 L100.17,99.11 L101.50,99.07 L102.83,99.03 L104.15,98.99 L105.47,98.95 L106.80,98.91 L108.12,98.87 L109.45,98.83 L110.77,98.79 L112.10,98.76 L113.42,98.72 L114.75,98.68 L116.08,98.65 L117.40,98.62 L118.72,98.58 L120.05,98.55 L121.38,98.51 L122.70,98.48 L124.02,98.45 L125.35,98.41 L126.67,98.38 L128.00,98.34 L129.32,98.31 L130.65,98.28 L131.97,98.24 L133.30,98.21 L134.62,98.18 L135.95,98.16 L137.27,98.13 L138.60,98.11 L139.93,98.10 L141.25,98.08 L142.57,98.07 L143.90,98.07 L145.22,98.07 L146.55,98.08 L147.88,98.09 L149.20,98.11 L150.53,98.13 L151.85,98.16 L153.17,98.20 L154.50,98.24 L155.82,98.29 L157.15,98.34 L158.47,98.40 L159.80,98.46 L161.12,98.53 L162.45,98.60 L163.78,98.67 L165.10,98.75 L166.42,98.83 L167.75,98.92 L169.07,99.02 L170.40,99.14 L171.72,99.26 L173.05,99.41 L174.38,99.57 L175.70,99.74 L177.03,99.93 L178.35,100.13 L179.67,100.34 L181.00,100.56 L182.32,100.78 L183.65,101.00 L184.97,101.23 L186.30,101.47 L187.62,101.72 L188.95,101.98 L190.28,102.25 L191.60,102.53 L192.92,102.82 L194.25,103.13 L195.57,103.45 L196.90,103.79 L198.22,104.14 L199.55,104.51 L200.88,104.89 L202.20,105.30 L203.53,105.73 L204.85,106.19 L206.17,106.67 L207.50,107.17 L208.82,107.69 L210.15,108.23 L211.47,108.79 L212.80,109.36 L214.12,109.95 L215.45,110.54 L216.78,111.15 L218.10,111.78 L219.42,112.41 L220.75,113.06 L222.07,113.72 L223.40,114.40 L224.72,115.09 L226.05,115.79 L227.38,116.51 L228.70,117.23 L230.03,117.97 L231.35,118.72 L232.67,119.49 L234.00,120.28 L235.32,121.09 L236.65,121.93 L237.97,122.81 L239.30,123.72 L240.62,124.68 L241.95,125.66 L243.28,126.68 L244.60,127.70 L245.92,128.74 L247.25,129.76 L248.57,130.77 L249.90,131.76 L251.22,132.74 L252.55,133.71 L253.88,134.67 L255.20,135.64 L256.52,136.62 L257.85,137.61 L259.17,138.62 L260.50,139.64 L261.82,140.68 L263.15,141.74 L264.48,142.81 L265.80,143.89 L267.12,144.96 L268.45,146.02 L269.77,147.07 L271.10,148.10 L272.42,149.14 L273.75,150.18 L275.07,151.22 L276.40,152.28 L277.73,153.35 L279.05,154.41 L280.38,155.46 L281.70,156.48 L283.02,157.46 L284.35,158.40 L285.68,159.32 L287.00,160.20 L288.32,161.06 L289.65,161.90 L290.97,162.72 L292.30,163.52 L293.62,164.31 L294.95,165.08 L296.27,165.85 L297.60,166.60 L298.93,167.34 L300.25,168.07 L301.57,168.80 L302.90,169.51 L304.22,170.21 L305.55,170.90 L306.88,171.57 L308.20,172.22 L309.52,172.84 L310.85,173.45 L312.18,174.02 L313.50,174.57 L314.82,175.09 L316.15,175.59 L317.47,176.05 L318.80,176.48 L320.12,176.88 L321.45,177.25 L322.77,177.59 L324.10,177.89 L325.43,178.16 L326.75,178.40 L328.07,178.61 L329.40,178.79 L330.72,178.95 L332.05,179.08 L333.38,179.19 L334.70,179.27 L336.02,179.33 L337.35,179.37 L338.68,179.39 L340.00,179.40 L340.18,179.40 L340.36,179.40 L340.54,179.39 L340.72,179.38 L340.90,179.37 L341.08,179.37 L341.26,179.36 L341.44,179.35 L341.63,179.34 L341.81,179.33 L341.99,179.32 L342.17,179.32 L342.35,179.31 L342.53,179.30 L342.71,179.29 L342.89,179.28 L343.07,179.27 L343.25,179.26 L343.43,179.25 L343.61,179.24 L343.79,179.22 L343.97,179.21 L344.15,179.20 L344.33,179.19 L344.51,179.18 L344.69,179.17 L344.88,179.16 L345.06,179.14 L345.24,179.13 L345.42,179.12 L345.60,179.10 L345.78,179.09 L345.96,179.07 L346.14,179.05 L346.32,179.03 L346.50,179.02 L346.68,179.00 L346.86,178.97 L347.04,178.95 L347.22,178.93 L347.40,178.91 L347.58,178.88 L347.76,178.86 L347.94,178.83 L348.13,178.81 L348.31,178.78 L348.49,178.75 L348.67,178.72 L348.85,178.69 L349.03,178.67 L349.21,178.64 L349.39,178.61 L349.57,178.58 L349.75,178.55 L349.93,178.52 L350.11,178.49 L350.29,178.45 L350.47,178.42 L350.65,178.39 L350.83,178.36 L351.01,178.33 L351.19,178.30 L351.38,178.26 L351.56,178.23 L351.74,178.20 L351.92,178.17 L352.10,178.14 L352.28,178.11 L352.46,178.07 L352.64,178.04 L352.82,178.01 L353.00,177.98 L353.18,177.95 L353.36,177.92 L353.54,177.88 L353.72,177.85 L353.90,177.82 L354.08,177.79 L354.26,177.75 L354.45,177.72 L354.63,177.68 L354.81,177.65 L354.99,177.62 L355.17,177.58 L355.35,177.54 L355.53,177.51 L355.71,177.47 L355.89,177.44 L356.07,177.40 L356.25,177.36 L356.43,177.32 L356.61,177.29 L356.79,177.25 L356.97,177.21 L357.15,177.17 L357.33,177.13 L357.51,177.09 L357.70,177.05 L357.88,177.01 L358.06,176.96 L358.24,176.92 L358.42,176.88 L358.60,176.83 L358.78,176.79 L358.96,176.75 L359.14,176.70 L359.32,176.65 L359.50,176.61 L359.68,176.56 L359.86,176.51 L360.04,176.46 L360.22,176.41 L360.40,176.36 L360.58,176.31 L360.76,176.26 L360.95,176.20 L361.13,176.15 L361.31,176.09 L361.49,176.03 L361.67,175.97 L361.85,175.91 L362.03,175.85 L362.21,175.79 L362.39,175.73 L362.57,175.66 L362.75,175.60 L362.93,175.53 L363.11,175.46 L363.29,175.40 L363.47,175.33 L363.65,175.26 L363.83,175.19 L364.02,175.12 L364.20,175.05 L364.38,174.98 L364.56,174.90 L364.74,174.83 L364.92,174.76 L365.10,174.68 L365.28,174.61 L365.46,174.53 L365.64,174.46 L365.82,174.38 L366.00,174.31 L366.18,174.23 L366.36,174.16 L366.54,174.08 L366.72,174.01 L366.90,173.93 L367.08,173.85 L367.27,173.78 L367.45,173.70 L367.63,173.63 L367.81,173.55 L367.99,173.47 L368.17,173.40 L368.35,173.32 L368.53,173.25 L368.71,173.17 L368.89,173.10 L369.07,173.02 L369.25,172.95 L369.43,172.87 L369.61,172.79 L369.79,172.72 L369.97,172.64 L370.15,172.57 L370.33,172.49 L370.52,172.41 L370.70,172.34 L370.88,172.26 L371.06,172.18 L371.24,172.10 L371.42,172.03 L371.60,171.95 L371.78,171.87 L371.96,171.79 L372.14,171.71 L372.32,171.63 L372.50,171.55 L372.68,171.47 L372.86,171.39 L373.04,171.31 L373.22,171.23 L373.40,171.15 L373.58,171.07 L373.77,170.98 L373.95,170.90 L374.13,170.82 L374.31,170.74 L374.49,170.65 L374.67,170.57 L374.85,170.48 L375.03,170.40 L375.21,170.31 L375.39,170.23 L375.57,170.14 L375.75,170.06 L375.93,169.97 L376.11,169.88 L376.29,169.80 L376.47,169.71 L376.65,169.62 L376.84,169.53 L377.02,169.45 L377.20,169.36 L377.38,169.27 L377.56,169.18 L377.74,169.09 L377.92,169.00 L378.10,168.91 L378.28,168.82 L378.46,168.73 L378.64,168.64 L378.82,168.55 L379.00,168.46 L379.18,168.37 L379.36,168.28 L379.54,168.19 L379.72,168.10 L379.90,168.00 L380.09,167.91 L380.27,167.82 L380.45,167.72 L380.63,167.63 L380.81,167.53 L380.99,167.44 L381.17,167.34 L381.35,167.25 L381.53,167.15 L381.71,167.05 L381.89,166.95 L382.07,166.85 L382.25,166.76 L382.43,166.66 L382.61,166.55 L382.79,166.45 L382.97,166.35 L383.15,166.25 L383.34,166.14 L383.52,166.04 L383.70,165.93 L383.88,165.83 L384.06,165.72 L384.24,165.61 L384.42,165.50 L384.60,165.39 L384.78,165.28 L384.96,165.17 L385.14,165.06 L385.32,164.95 L385.50,164.84 L385.68,164.72 L385.86,164.61 L386.04,164.49 L386.22,164.38 L386.41,164.26 L386.59,164.14 L386.77,164.03 L386.95,163.91 L387.13,163.79 L387.31,163.67 L387.49,163.55 L387.67,163.42 L387.85,163.30 L388.03,163.17 L388.21,163.05 L388.39,162.92 L388.57,162.79 L388.75,162.66 L388.93,162.53 L389.11,162.39 L389.29,162.25 L389.47,162.12 L389.66,161.98 L389.84,161.84 L390.02,161.69 L390.20,161.55 L390.38,161.40 L390.56,161.25 L390.74,161.10 L390.92,160.94 L391.10,160.79 L391.28,160.63 L391.46,160.47 L391.64,160.30 L391.82,160.13 L392.00,159.96 L392.18,159.79 L392.36,159.61 L392.54,159.43 L392.72,159.24 L392.91,159.06 L393.09,158.86 L393.27,158.67 L393.45,158.47 L393.63,158.27 L393.81,158.06 L393.99,157.85 L394.17,157.64 L394.35,157.43 L394.53,157.21 L394.71,156.99 L394.89,156.77 L395.07,156.54 L395.25,156.32 L395.43,156.09 L395.61,155.85 L395.79,155.62 L395.97,155.38 L396.16,155.14 L396.34,154.90 L396.52,154.65 L396.70,154.41 L396.88,154.17 L397.06,153.94 L397.24,153.66 L397.42,153.41 L397.60,153.15" fill="none" stroke="#0ac85a" stroke-width="1.65"/>
<path d="M22.00,99.90 L23.32,99.87 L24.65,99.84 L25.98,99.81 L27.30,99.78 L28.62,99.75 L29.95,99.72 L31.27,99.69 L32.60,99.65 L33.92,99.62 L35.25,99.59 L36.58,99.55 L37.90,99.52 L39.22,99.48 L40.55,99.45 L41.88,99.41 L43.20,99.38 L44.52,99.34 L45.85,99.30 L47.17,99.26 L48.50,99.23 L49.83,99.19 L51.15,99.15 L52.47,99.11 L53.80,99.07 L55.12,99.03 L56.45,98.99 L57.77,98.95 L59.10,98.90 L60.42,98.86 L61.75,98.82 L63.07,98.78 L64.40,98.73 L65.72,98.69 L67.05,98.65 L68.38,98.60 L69.70,98.56 L71.03,98.51 L72.35,98.46 L73.67,98.41 L75.00,98.36 L76.32,98.31 L77.65,98.26 L78.97,98.20 L80.30,98.15 L81.62,98.09 L82.95,98.03 L84.28,97.97 L85.60,97.91 L86.92,97.85 L88.25,97.79 L89.58,97.73 L90.90,97.67 L92.22,97.61 L93.55,97.54 L94.88,97.48 L96.20,97.42 L97.52,97.36 L98.85,97.30 L100.17,97.23 L101.50,97.17 L102.83,97.11 L104.15,97.06 L105.47,97.00 L106.80,96.94 L108.12,96.89 L109.45,96.83 L110.77,96.78 L112.10,96.73 L113.42,96.68 L114.75,96.63 L116.08,96.58 L117.40,96.54 L118.72,96.49 L120.05,96.45 L121.38,96.41 L122.70,96.37 L124.02,96.32 L125.35,96.28 L126.67,96.24 L128.00,96.20 L129.32,96.16 L130.65,96.12 L131.97,96.08 L133.30,96.04 L134.62,96.01 L135.95,95.98 L137.27,95.95 L138.60,95.92 L139.93,95.90 L141.25,95.89 L142.57,95.88 L143.90,95.87 L145.22,95.87 L146.55,95.88 L147.88,95.89 L149.20,95.91 L150.53,95.94 L151.85,95.98 L153.17,96.02 L154.50,96.06 L155.82,96.11 L157.15,96.17 L158.47,96.23 L159.80,96.29 L161.12,96.36 L162.45,96.43 L163.78,96.50 L165.10,96.57 L166.42,96.65 L167.75,96.72 L169.07,96.80 L170.40,96.89 L171.72,96.97 L173.05,97.06 L174.38,97.16 L175.70,97.27 L177.03,97.38 L178.35,97.50 L179.67,97.64 L181.00,97.79 L182.32,97.96 L183.65,98.15 L184.97,98.36 L186.30,98.59 L187.62,98.84 L188.95,99.11 L190.28,99.40 L191.60,99.70 L192.92,100.01 L194.25,100.34 L195.57,100.67 L196.90,101.01 L198.22,101.36 L199.55,101.73 L200.88,102.11 L202.20,102.50 L203.53,102.90 L204.85,103.32 L206.17,103.76 L207.50,104.21 L208.82,104.68 L210.15,105.16 L211.47,105.67 L212.80,106.18 L214.12,106.72 L215.45,107.27 L216.78,107.84 L218.10,108.42 L219.42,109.02 L220.75,109.65 L222.07,110.29 L223.40,110.96 L224.72,111.66 L226.05,112.39 L227.38,113.14 L228.70,113.92 L230.03,114.73 L231.35,115.55 L232.67,116.40 L234.00,117.25 L235.32,118.11 L236.65,118.97 L237.97,119.83 L239.30,120.69 L240.62,121.54 L241.95,122.39 L243.28,123.25 L244.60,124.10 L245.92,124.95 L247.25,125.80 L248.57,126.66 L249.90,127.53 L251.22,128.42 L252.55,129.31 L253.88,130.22 L255.20,131.15 L256.52,132.10 L257.85,133.07 L259.17,134.05 L260.50,135.05 L261.82,136.06 L263.15,137.10 L264.48,138.15 L265.80,139.22 L267.12,140.31 L268.45,141.43 L269.77,142.57 L271.10,143.74 L272.42,144.92 L273.75,146.11 L275.07,147.30 L276.40,148.47 L277.73,149.61 L279.05,150.71 L280.38,151.77 L281.70,152.78 L283.02,153.75 L284.35,154.69 L285.68,155.60 L287.00,156.48 L288.32,157.35 L289.65,158.21 L290.97,159.07 L292.30,159.92 L293.62,160.78 L294.95,161.64 L296.27,162.50 L297.60,163.35 L298.93,164.18 L300.25,165.00 L301.57,165.80 L302.90,166.58 L304.22,167.33 L305.55,168.07 L306.88,168.80 L308.20,169.51 L309.52,170.20 L310.85,170.87 L312.18,171.53 L313.50,172.15 L314.82,172.75 L316.15,173.31 L317.47,173.84 L318.80,174.33 L320.12,174.79 L321.45,175.22 L322.77,175.62 L324.10,175.99 L325.43,176.33 L326.75,176.63 L328.07,176.90 L329.40,177.14 L330.72,177.34 L332.05,177.50 L333.38,177.63 L334.70,177.71 L336.02,177.77 L337.35,177.79 L338.68,177.79 L340.00,177.76 L340.18,177.73 L340.36,177.69 L340.54,177.64 L340.72,177.60 L340.90,177.57 L341.08,177.54 L341.26,177.51 L341.44,177.48 L341.63,177.44 L341.81,177.42 L341.99,177.39 L342.17,177.36 L342.35,177.33 L342.53,177.30 L342.71,177.27 L342.89,177.24 L343.07,177.22 L343.25,177.19 L343.43,177.16 L343.61,177.13 L343.79,177.10 L343.97,177.07 L344.15,177.05 L344.33,177.02 L344.51,176.99 L344.69,176.96 L344.88,176.93 L345.06,176.90 L345.24,176.87 L345.42,176.84 L345.60,176.81 L345.78,176.78 L345.96,176.75 L346.14,176.72 L346.32,176.69 L346.50,176.66 L346.68,176.62 L346.86,176.59 L347.04,176.56 L347.22,176.53 L347.40,176.49 L347.58,176.46 L347.76,176.43 L347.94,176.39 L348.13,176.36 L348.31,176.32 L348.49,176.29 L348.67,176.25 L348.85,176.22 L349.03,176.18 L349.21,176.14 L349.39,176.11 L349.57,176.07 L349.75,176.03 L349.93,175.99 L350.11,175.96 L350.29,175.92 L350.47,175.88 L350.65,175.84 L350.83,175.80 L351.01,175.75 L351.19,175.71 L351.38,175.67 L351.56,175.63 L351.74,175.58 L351.92,175.54 L352.10,175.50 L352.28,175.45 L352.46,175.41 L352.64,175.36 L352.82,175.31 L353.00,175.27 L353.18,175.22 L353.36,175.17 L353.54,175.12 L353.72,175.07 L353.90,175.02 L354.08,174.96 L354.26,174.91 L354.45,174.85 L354.63,174.79 L354.81,174.74 L354.99,174.67 L355.17,174.61 L355.35,174.55 L355.53,174.48 L355.71,174.41 L355.89,174.35 L356.07,174.28 L356.25,174.20 L356.43,174.13 L356.61,174.06 L356.79,173.98 L356.97,173.90 L357.15,173.83 L357.33,173.75 L357.51,173.67 L357.70,173.59 L357.88,173.50 L358.06,173.42 L358.24,173.34 L358.42,173.25 L358.60,173.16 L358.78,173.08 L358.96,172.99 L359.14,172.90 L359.32,172.81 L359.50,172.72 L359.68,172.63 L359.86,172.54 L360.04,172.45 L360.22,172.35 L360.40,172.26 L360.58,172.17 L360.76,172.07 L360.95,171.98 L361.13,171.88 L361.31,171.79 L361.49,171.69 L361.67,171.60 L361.85,171.50 L362.03,171.41 L362.21,171.31 L362.39,171.21 L362.57,171.12 L362.75,171.02 L362.93,170.92 L363.11,170.83 L363.29,170.73 L363.47,170.64 L363.65,170.54 L363.83,170.44 L364.02,170.35 L364.20,170.25 L364.38,170.16 L364.56,170.06 L364.74,169.96 L364.92,169.87 L365.10,169.77 L365.28,169.67 L365.46,169.58 L365.64,169.48 L365.82,169.38 L366.00,169.28 L366.18,169.18 L366.36,169.08 L366.54,168.98 L366.72,168.88 L366.90,168.78 L367.08,168.68 L367.27,168.58 L367.45,168.48 L367.63,168.37 L367.81,168.27 L367.99,168.17 L368.17,168.06 L368.35,167.96 L368.53,167.85 L368.71,167.74 L368.89,167.64 L369.07,167.53 L369.25,167.42 L369.43,167.31 L369.61,167.20 L369.79,167.09 L369.97,166.98 L370.15,166.86 L370.33,166.75 L370.52,166.64 L370.70,166.52 L370.88,166.41 L371.06,166.29 L371.24,166.17 L371.42,166.05 L371.60,165.93 L371.78,165.81 L371.96,165.69 L372.14,165.57 L372.32,165.44 L372.50,165.32 L372.68,165.19 L372.86,165.07 L373.04,164.94 L373.22,164.81 L373.40,164.68 L373.58,164.55 L373.77,164.42 L373.95,164.29 L374.13,164.15 L374.31,164.02 L374.49,163.88 L374.67,163.74 L374.85,163.60 L375.03,163.46 L375.21,163.31 L375.39,163.17 L375.57,163.02 L375.75,162.87 L375.93,162.72 L376.11,162.57 L376.29,162.42 L376.47,162.27 L376.65,162.11 L376.84,161.96 L377.02,161.80 L377.20,161.64 L377.38,161.48 L377.56,161.31 L377.74,161.15 L377.92,160.99 L378.10,160.82 L378.28,160.65 L378.46,160.48 L378.64,160.31 L378.82,160.14 L379.00,159.97 L379.18,159.79 L379.36,159.62 L379.54,159.44 L379.72,159.26 L379.90,159.08 L380.09,158.90 L380.27,158.72 L380.45,158.54 L380.63,158.35 L380.81,158.17 L380.99,157.98 L381.17,157.79 L381.35,157.60 L381.53,157.41 L381.71,157.22 L381.89,157.03 L382.07,156.83 L382.25,156.64 L382.43,156.44 L382.61,156.24 L382.79,156.04 L382.97,155.84 L383.15,155.63 L383.34,155.43 L383.52,155.22 L383.70,155.00 L383.88,154.79 L384.06,154.57 L384.24,154.35 L384.42,154.13 L384.60,153.91 L384.78,153.68 L384.96,153.45 L385.14,153.22 L385.32,152.99 L385.50,152.76 L385.68,152.52 L385.86,152.28 L386.04,152.04 L386.22,151.80 L386.41,151.56 L386.59,151.31 L386.77,151.07 L386.95,150.82 L387.13,150.57 L387.31,150.32 L387.49,150.07 L387.67,149.81 L387.85,149.56 L388.03,149.30 L388.21,149.04 L388.39,148.79 L388.57,148.53 L388.75,148.27 L388.93,148.01 L389.11,147.74 L389.29,147.48 L389.47,147.22 L389.66,146.95 L389.84,146.69 L390.02,146.42 L390.20,146.15 L390.38,145.88 L390.56,145.61 L390.74,145.33 L390.92,145.05 L391.10,144.77 L391.28,144.49 L391.46,144.20 L391.64,143.91 L391.82,143.62 L392.00,143.33 L392.18,143.04 L392.36,142.74 L392.54,142.45 L392.72,142.15 L392.91,141.85 L393.09,141.55 L393.27,141.25 L393.45,140.95 L393.63,140.64 L393.81,140.34 L393.99,140.04 L394.17,139.73 L394.35,139.43 L394.53,139.12 L394.71,138.82 L394.89,138.51 L395.07,138.21 L395.25,137.90 L395.43,137.60 L395.61,137.30 L395.79,136.99 L395.97,136.69 L396.16,136.39 L396.34,136.09 L396.52,135.78 L396.70,135.48 L396.88,135.19 L397.06,134.91 L397.24,134.56 L397.42,134.26 L397.60,133.95" fill="none" stroke="#bd5291" stroke-width="1.9" stroke-dasharray="4.6 6.75"/>
<path d="M22.00,113.05 L23.32,112.98 L24.65,112.91 L25.98,112.83 L27.30,112.77 L28.62,112.70 L29.95,112.63 L31.27,112.56 L32.60,112.49 L33.92,112.42 L35.25,112.34 L36.58,112.27 L37.90,112.20 L39.22,112.12 L40.55,112.05 L41.88,111.97 L43.20,111.90 L44.52,111.82 L45.85,111.75 L47.17,111.67 L48.50,111.60 L49.83,111.52 L51.15,111.44 L52.47,111.36 L53.80,111.29 L55.12,111.21 L56.45,111.13 L57.77,111.05 L59.10,110.97 L60.42,110.89 L61.75,110.81 L63.07,110.73 L64.40,110.65 L65.72,110.56 L67.05,110.48 L68.38,110.40 L69.70,110.32 L71.03,110.23 L72.35,110.15 L73.67,110.06 L75.00,109.98 L76.32,109.89 L77.65,109.80 L78.97,109.72 L80.30,109.63 L81.62,109.54 L82.95,109.45 L84.28,109.36 L85.60,109.27 L86.92,109.18 L88.25,109.08 L89.58,108.99 L90.90,108.90 L92.22,108.81 L93.55,108.71 L94.88,108.62 L96.20,108.53 L97.52,108.43 L98.85,108.34 L100.17,108.24 L101.50,108.15 L102.83,108.06 L104.15,107.96 L105.47,107.87 L106.80,107.77 L108.12,107.68 L109.45,107.59 L110.77,107.49 L112.10,107.40 L113.42,107.31 L114.75,107.21 L116.08,107.12 L117.40,107.03 L118.72,106.94 L120.05,106.84 L121.38,106.75 L122.70,106.66 L124.02,106.56 L125.35,106.47 L126.67,106.37 L128.00,106.27 L129.32,106.18 L130.65,106.08 L131.97,105.99 L133.30,105.89 L134.62,105.80 L135.95,105.71 L137.27,105.62 L138.60,105.53 L139.93,105.45 L141.25,105.37 L142.57,105.29 L143.90,105.22 L145.22,105.14 L146.55,105.07 L147.88,105.00 L149.20,104.93 L150.53,104.86 L151.85,104.79 L153.17,104.72 L154.50,104.65 L155.82,104.58 L157.15,104.52 L158.47,104.46 L159.80,104.40 L161.12,104.35 L162.45,104.31 L163.78,104.27 L165.10,104.23 L166.42,104.21 L167.75,104.19 L169.07,104.18 L170.40,104.18 L171.72,104.19 L173.05,104.21 L174.38,104.24 L175.70,104.28 L177.03,104.32 L178.35,104.37 L179.67,104.42 L181.00,104.48 L182.32,104.55 L183.65,104.62 L184.97,104.70 L186.30,104.79 L187.62,104.89 L188.95,105.00 L190.28,105.12 L191.60,105.26 L192.92,105.41 L194.25,105.57 L195.57,105.75 L196.90,105.94 L198.22,106.14 L199.55,106.35 L200.88,106.58 L202.20,106.82 L203.53,107.07 L204.85,107.33 L206.17,107.61 L207.50,107.91 L208.82,108.22 L210.15,108.56 L211.47,108.92 L212.80,109.30 L214.12,109.71 L215.45,110.14 L216.78,110.60 L218.10,111.08 L219.42,111.58 L220.75,112.09 L222.07,112.62 L223.40,113.16 L224.72,113.71 L226.05,114.27 L227.38,114.84 L228.70,115.43 L230.03,116.04 L231.35,116.67 L232.67,117.32 L234.00,117.99 L235.32,118.68 L236.65,119.40 L237.97,120.14 L239.30,120.89 L240.62,121.67 L241.95,122.46 L243.28,123.26 L244.60,124.08 L245.92,124.92 L247.25,125.76 L248.57,126.62 L249.90,127.50 L251.22,128.39 L252.55,129.29 L253.88,130.21 L255.20,131.14 L256.52,132.09 L257.85,133.05 L259.17,134.03 L260.50,135.03 L261.82,136.04 L263.15,137.08 L264.48,138.13 L265.80,139.21 L267.12,140.31 L268.45,141.45 L269.77,142.62 L271.10,143.81 L272.42,145.03 L273.75,146.25 L275.07,147.48 L276.40,148.68 L277.73,149.85 L279.05,150.97 L280.38,152.04 L281.70,153.07 L283.02,154.05 L284.35,154.98 L285.68,155.89 L287.00,156.76 L288.32,157.62 L289.65,158.47 L290.97,159.31 L292.30,160.15 L293.62,160.99 L294.95,161.83 L296.27,162.67 L297.60,163.50 L298.93,164.33 L300.25,165.14 L301.57,165.94 L302.90,166.72 L304.22,167.49 L305.55,168.24 L306.88,168.97 L308.20,169.70 L309.52,170.40 L310.85,171.08 L312.18,171.73 L313.50,172.35 L314.82,172.94 L316.15,173.49 L317.47,174.00 L318.80,174.48 L320.12,174.92 L321.45,175.34 L322.77,175.73 L324.10,176.10 L325.43,176.43 L326.75,176.73 L328.07,176.99 L329.40,177.22 L330.72,177.41 L332.05,177.55 L333.38,177.66 L334.70,177.73 L336.02,177.77 L337.35,177.79 L338.68,177.80 L340.00,177.79 L340.18,177.78 L340.36,177.77 L340.54,177.77 L340.72,177.76 L340.90,177.75 L341.08,177.75 L341.26,177.74 L341.44,177.73 L341.63,177.73 L341.81,177.72 L341.99,177.71 L342.17,177.70 L342.35,177.69 L342.53,177.68 L342.71,177.67 L342.89,177.66 L343.07,177.64 L343.25,177.63 L343.43,177.62 L343.61,177.60 L343.79,177.59 L343.97,177.57 L344.15,177.56 L344.33,177.54 L344.51,177.52 L344.69,177.50 L344.88,177.48 L345.06,177.47 L345.24,177.45 L345.42,177.43 L345.60,177.41 L345.78,177.38 L345.96,177.36 L346.14,177.34 L346.32,177.32 L346.50,177.30 L346.68,177.27 L346.86,177.25 L347.04,177.23 L347.22,177.20 L347.40,177.17 L347.58,177.15 L347.76,177.12 L347.94,177.09 L348.13,177.06 L348.31,177.02 L348.49,176.98 L348.67,176.94 L348.85,176.90 L349.03,176.86 L349.21,176.81 L349.39,176.76 L349.57,176.71 L349.75,176.66 L349.93,176.61 L350.11,176.55 L350.29,176.50 L350.47,176.44 L350.65,176.38 L350.83,176.32 L351.01,176.26 L351.19,176.20 L351.38,176.13 L351.56,176.07 L351.74,176.00 L351.92,175.94 L352.10,175.87 L352.28,175.81 L352.46,175.74 L352.64,175.67 L352.82,175.61 L353.00,175.54 L353.18,175.48 L353.36,175.41 L353.54,175.34 L353.72,175.28 L353.90,175.21 L354.08,175.15 L354.26,175.08 L354.45,175.01 L354.63,174.95 L354.81,174.88 L354.99,174.81 L355.17,174.74 L355.35,174.67 L355.53,174.60 L355.71,174.53 L355.89,174.46 L356.07,174.39 L356.25,174.32 L356.43,174.24 L356.61,174.17 L356.79,174.09 L356.97,174.02 L357.15,173.94 L357.33,173.86 L357.51,173.78 L357.70,173.70 L357.88,173.62 L358.06,173.54 L358.24,173.46 L358.42,173.38 L358.60,173.29 L358.78,173.21 L358.96,173.12 L359.14,173.03 L359.32,172.94 L359.50,172.85 L359.68,172.76 L359.86,172.67 L360.04,172.58 L360.22,172.48 L360.40,172.38 L360.58,172.29 L360.76,172.19 L360.95,172.09 L361.13,171.98 L361.31,171.88 L361.49,171.77 L361.67,171.67 L361.85,171.56 L362.03,171.45 L362.21,171.34 L362.39,171.22 L362.57,171.11 L362.75,170.99 L362.93,170.88 L363.11,170.76 L363.29,170.64 L363.47,170.51 L363.65,170.39 L363.83,170.27 L364.02,170.14 L364.20,170.01 L364.38,169.88 L364.56,169.75 L364.74,169.62 L364.92,169.49 L365.10,169.35 L365.28,169.22 L365.46,169.08 L365.64,168.94 L365.82,168.80 L366.00,168.66 L366.18,168.52 L366.36,168.37 L366.54,168.23 L366.72,168.08 L366.90,167.92 L367.08,167.77 L367.27,167.61 L367.45,167.45 L367.63,167.29 L367.81,167.12 L367.99,166.95 L368.17,166.78 L368.35,166.60 L368.53,166.43 L368.71,166.25 L368.89,166.07 L369.07,165.89 L369.25,165.71 L369.43,165.52 L369.61,165.33 L369.79,165.15 L369.97,164.96 L370.15,164.77 L370.33,164.58 L370.52,164.39 L370.70,164.19 L370.88,164.00 L371.06,163.81 L371.24,163.61 L371.42,163.42 L371.60,163.23 L371.78,163.03 L371.96,162.84 L372.14,162.65 L372.32,162.45 L372.50,162.26 L372.68,162.07 L372.86,161.88 L373.04,161.69 L373.22,161.50 L373.40,161.30 L373.58,161.11 L373.77,160.92 L373.95,160.73 L374.13,160.54 L374.31,160.34 L374.49,160.15 L374.67,159.95 L374.85,159.76 L375.03,159.56 L375.21,159.36 L375.39,159.16 L375.57,158.96 L375.75,158.76 L375.93,158.55 L376.11,158.35 L376.29,158.14 L376.47,157.93 L376.65,157.72 L376.84,157.50 L377.02,157.29 L377.20,157.07 L377.38,156.85 L377.56,156.63 L377.74,156.40 L377.92,156.18 L378.10,155.96 L378.28,155.74 L378.46,155.51 L378.64,155.29 L378.82,155.07 L379.00,154.85 L379.18,154.62 L379.36,154.39 L379.54,154.16 L379.72,153.93 L379.90,153.69 L380.09,153.44 L380.27,153.19 L380.45,152.93 L380.63,152.66 L380.81,152.39 L380.99,152.10 L381.17,151.81 L381.35,151.50 L381.53,151.18 L381.71,150.84 L381.89,150.48 L382.07,150.10 L382.25,149.68 L382.43,149.24 L382.61,148.76 L382.79,148.25 L382.97,147.73 L383.15,147.19 L383.34,146.64 L383.52,146.10 L383.70,145.58 L383.88,145.07 L384.06,144.58 L384.24,144.11 L384.42,143.66 L384.60,143.23 L384.78,142.81 L384.96,142.40 L385.14,141.99 L385.32,141.60 L385.50,141.21 L385.68,140.82 L385.86,140.44 L386.04,140.06 L386.22,139.68 L386.41,139.30 L386.59,138.91 L386.77,138.52 L386.95,138.13 L387.13,137.73 L387.31,137.32 L387.49,136.90 L387.67,136.48 L387.85,136.05 L388.03,135.61 L388.21,135.16 L388.39,134.71 L388.57,134.25 L388.75,133.78 L388.93,133.31 L389.11,132.83 L389.29,132.35 L389.47,131.86 L389.66,131.36 L389.84,130.85 L390.02,130.34 L390.20,129.82 L390.38,129.29 L390.56,128.76 L390.74,128.21 L390.92,127.65 L391.10,127.08 L391.28,126.50 L391.46,125.90 L391.64,125.30 L391.82,124.68 L392.00,124.05 L392.18,123.41 L392.36,122.77 L392.54,122.12 L392.72,121.46 L392.91,120.80 L393.09,120.14 L393.27,119.48 L393.45,118.82 L393.63,118.15 L393.81,117.49 L393.99,116.83 L394.17,116.16 L394.35,115.50 L394.53,114.83 L394.71,114.17 L394.89,113.50 L395.07,112.82 L395.25,112.15 L395.43,111.47 L395.61,110.80 L395.79,110.11 L395.97,109.43 L396.16,108.74 L396.34,108.06 L396.52,107.36 L396.70,106.67 L396.88,106.00 L397.06,105.36 L397.24,104.58 L397.42,103.87 L397.60,103.15" fill="none" stroke="#ff9500" stroke-width="1.35" stroke-dasharray="4.8 2.2 1.3 2.22"/>
</g>
<g fill="none" stroke="#383838" stroke-width="0.9"><path d="M22.18,209.00h3.8M397.8,209.00h-3.8"/><path d="M22.18,189.05h3.8M397.8,189.05h-3.8"/><path d="M22.18,169.11h3.8M397.8,169.11h-3.8"/><path d="M22.18,149.16h3.8M397.8,149.16h-3.8"/><path d="M22.18,129.21h3.8M397.8,129.21h-3.8"/><path d="M22.18,109.26h3.8M397.8,109.26h-3.8"/><path d="M22.18,89.31h3.8M397.8,89.31h-3.8"/><path d="M22.18,69.37h3.8M397.8,69.37h-3.8"/><path d="M22.18,49.42h3.8M397.8,49.42h-3.8"/><path d="M22.18,29.47h3.8M397.8,29.47h-3.8"/><path d="M52.75,228.95v-2.3M52.75,19.5v2.3"/><path d="M70.63,228.95v-2.3M70.63,19.5v2.3"/><path d="M83.32,228.95v-2.3M83.32,19.5v2.3"/><path d="M93.16,228.95v-2.3M93.16,19.5v2.3"/><path d="M101.20,228.95v-2.3M101.20,19.5v2.3"/><path d="M108.00,228.95v-2.3M108.00,19.5v2.3"/><path d="M113.89,228.95v-2.3M113.89,19.5v2.3"/><path d="M119.08,228.95v-2.3M119.08,19.5v2.3"/><path d="M123.73,228.95v-4.2M123.73,19.5v4.2"/><path d="M154.30,228.95v-2.3M154.30,19.5v2.3"/><path d="M172.18,228.95v-2.3M172.18,19.5v2.3"/><path d="M184.87,228.95v-2.3M184.87,19.5v2.3"/><path d="M194.71,228.95v-2.3M194.71,19.5v2.3"/><path d="M202.75,228.95v-2.3M202.75,19.5v2.3"/><path d="M209.55,228.95v-2.3M209.55,19.5v2.3"/><path d="M215.44,228.95v-2.3M215.44,19.5v2.3"/><path d="M220.63,228.95v-2.3M220.63,19.5v2.3"/><path d="M225.28,228.95v-4.2M225.28,19.5v4.2"/><path d="M255.85,228.95v-2.3M255.85,19.5v2.3"/><path d="M273.73,228.95v-2.3M273.73,19.5v2.3"/><path d="M286.42,228.95v-2.3M286.42,19.5v2.3"/><path d="M296.26,228.95v-2.3M296.26,19.5v2.3"/><path d="M304.30,228.95v-2.3M304.30,19.5v2.3"/><path d="M311.10,228.95v-2.3M311.10,19.5v2.3"/><path d="M316.99,228.95v-2.3M316.99,19.5v2.3"/><path d="M322.18,228.95v-2.3M322.18,19.5v2.3"/><path d="M326.83,228.95v-4.2M326.83,19.5v4.2"/><path d="M357.40,228.95v-2.3M357.40,19.5v2.3"/><path d="M375.28,228.95v-2.3M375.28,19.5v2.3"/><path d="M387.97,228.95v-2.3M387.97,19.5v2.3"/><path d="M397.81,228.95v-2.3M397.81,19.5v2.3"/></g>
<rect x="22.18" y="19.5" width="375.62" height="209.45" fill="none" stroke="#505050" stroke-width="1.12" stroke-linejoin="round"/>
<text x="16.2" y="232.20" text-anchor="end">0</text>
<text x="16.2" y="212.25" text-anchor="end">0.2</text>
<text x="16.2" y="192.30" text-anchor="end">0.4</text>
<text x="16.2" y="172.36" text-anchor="end">0.6</text>
<text x="16.2" y="152.41" text-anchor="end">0.8</text>
<text x="16.2" y="132.46" text-anchor="end">1</text>
<text x="16.2" y="112.51" text-anchor="end">1.2</text>
<text x="16.2" y="92.56" text-anchor="end">1.4</text>
<text x="16.2" y="72.62" text-anchor="end">1.6</text>
<text x="16.2" y="52.67" text-anchor="end">1.8</text>
<text x="16.2" y="32.72" text-anchor="end">2</text>
<text x="21.58" y="241.3" text-anchor="middle">0.0001</text>
<text x="123.13" y="241.3" text-anchor="middle">0.001</text>
<text x="224.68" y="241.3" text-anchor="middle">0.01</text>
<text x="326.23" y="241.3" text-anchor="middle">0.1</text>
<g><text transform="matrix(0.10485 0 0 0.13774 22.454 12.173)" font-size="100" font-weight="bold" fill="#242424">(</text><text transform="matrix(0.15172 0 0 0.12153 27.576 12.078)" font-size="100" font-weight="bold" font-style="italic" fill="#242424">s</text><text transform="matrix(0.20645 0 0 0.19140 36.568 15.514)" font-size="100" fill="#242424">+</text><text transform="matrix(0.16552 0 0 0.12153 51.083 12.078)" font-size="100" font-weight="bold" font-style="italic" fill="#242424">s</text><path d="M50.6,4.5H57.3" stroke="#1a1a1a" stroke-width="0.9" fill="none"/><text transform="matrix(0.12427 0 0 0.13774 58.196 12.173)" font-size="100" font-weight="bold" fill="#242424">)</text><text transform="matrix(0.21513 0 0 0.18727 63.815 14.913)" font-size="100" font-weight="bold" fill="#242424">/</text><text transform="matrix(0.12816 0 0 0.13774 71.055 12.173)" font-size="100" font-weight="bold" fill="#242424">(</text><text transform="matrix(0.15876 0 0 0.12345 76.305 12.046)" font-size="100" font-weight="bold" font-style="italic" fill="#242424">u</text><path d="M76.6,4.4H84.6" stroke="#1a1a1a" stroke-width="0.9" fill="none"/><text transform="matrix(0.20215 0 0 0.19140 87.589 15.514)" font-size="100" fill="#242424">+</text><text transform="matrix(0.15000 0 0 0.12482 102.312 12.075)" font-size="100" font-weight="bold" font-style="italic" fill="#242424">d</text><path d="M102.2,1.4H110.0" stroke="#1a1a1a" stroke-width="0.9" fill="none"/><text transform="matrix(0.13204 0 0 0.13774 110.071 12.173)" font-size="100" font-weight="bold" fill="#242424">)</text><text transform="matrix(0.12039 0 0 0.13774 121.288 12.173)" font-size="100" font-weight="bold" fill="#242424">(</text><text transform="matrix(0.14880 0 0 0.13131 125.502 12.069)" font-size="100" font-weight="bold" fill="#242424">NNLO</text><text transform="matrix(0.13204 0 0 0.13774 169.071 12.173)" font-size="100" font-weight="bold" fill="#242424">)</text><text transform="matrix(0.13000 0 0 0.13554 174.838 12.199)" font-size="100" font-weight="bold" fill="#242424">,</text><text transform="matrix(0.17121 0 0 0.13371 187.301 12.127)" font-size="100" font-weight="bold" font-style="italic" fill="#242424">Q</text><text transform="matrix(0.10120 0 0 0.08453 199.470 7.500)" font-size="100" font-weight="bold" fill="#242424">2</text><text transform="matrix(0.20645 0 0 0.18800 208.168 15.101)" font-size="100" fill="#242424">=</text><text transform="matrix(0.14890 0 0 0.12428 223.409 11.984)" font-size="100" font-weight="bold" fill="#242424">1.9</text><text transform="matrix(0.14960 0 0 0.13034 244.889 12.004)" font-size="100" font-weight="bold" fill="#242424">GeV</text><text transform="matrix(0.11566 0 0 0.08453 273.708 6.800)" font-size="100" font-weight="bold" fill="#242424">2</text></g>
<text transform="matrix(0.20718 0 0 0.16957 204.359 254.800)" font-size="100" font-weight="bold" font-style="italic" fill="#242424">x</text>
<g><text transform="matrix(0.13496 0 0 0.13271 312.829 41.000)" font-size="100" fill="#242424">MMHT</text><text transform="matrix(0.13120 0 0 0.13074 214.739 56.419)" font-size="100" fill="#242424">MMHT16</text><text transform="matrix(0.18925 0 0 0.18548 272.954 59.467)" font-size="100" fill="#242424">+</text><text transform="matrix(0.13520 0 0 0.13268 288.265 56.447)" font-size="100" fill="#242424">ATLAS</text><text transform="matrix(0.13400 0 0 0.13198 334.500 56.402)" font-size="100" fill="#242424">WZ</text><text transform="matrix(0.13170 0 0 0.13271 205.438 72.000)" font-size="100" fill="#242424">MMHT</text><text transform="matrix(0.18925 0 0 0.18548 251.254 75.017)" font-size="100" fill="#242424">+</text><text transform="matrix(0.13224 0 0 0.13268 266.668 71.997)" font-size="100" fill="#242424">ATLAS</text><text transform="matrix(0.13067 0 0 0.13198 313.800 71.952)" font-size="100" fill="#242424">WZ</text><text transform="matrix(0.12039 0 0 0.13664 337.788 72.096)" font-size="100" fill="#242424">(</text><text transform="matrix(0.16170 0 0 0.12000 342.400 71.920)" font-size="100" font-style="italic" fill="#242424">μ</text><text transform="matrix(0.12816 0 0 0.13664 350.483 72.096)" font-size="100" fill="#242424">)</text><text transform="matrix(0.13301 0 0 0.13271 192.834 87.600)" font-size="100" fill="#242424">MMHT</text><text transform="matrix(0.18280 0 0 0.18548 238.986 90.617)" font-size="100" fill="#242424">+</text><text transform="matrix(0.13355 0 0 0.13268 253.966 87.597)" font-size="100" fill="#242424">ATLAS</text><text transform="matrix(0.13133 0 0 0.13198 300.300 87.552)" font-size="100" fill="#242424">WZ</text><text transform="matrix(0.13592 0 0 0.13664 324.722 87.696)" font-size="100" fill="#242424">(</text><text transform="matrix(0.15319 0 0 0.12000 329.800 87.520)" font-size="100" font-style="italic" fill="#242424">μ</text><text transform="matrix(0.19459 0 0 0.18507 337.900 90.415)" font-size="100" fill="#242424">/</text><text transform="matrix(0.13665 0 0 0.12443 343.919 87.600)" font-size="100" fill="#242424">2</text><text transform="matrix(0.12816 0 0 0.13664 350.483 87.696)" font-size="100" fill="#242424">)</text></g>
<g fill="none">
<path d="M360.7,38.2H385.2" stroke="#4a4aff" stroke-width="1"/>
<path d="M360.7,53.8H385.2" stroke="#1fcb69" stroke-width="1.7"/>
<path d="M360.7,69.8H385.6" stroke="#bd5291" stroke-width="1.9" stroke-dasharray="4.6 6.75"/>
<path d="M360.7,85.35H385.6" stroke="#ff9500" stroke-width="1.35" stroke-dasharray="4.8 2.2 1.3 2.22"/>
</g>
</svg>
</body>
</html>
